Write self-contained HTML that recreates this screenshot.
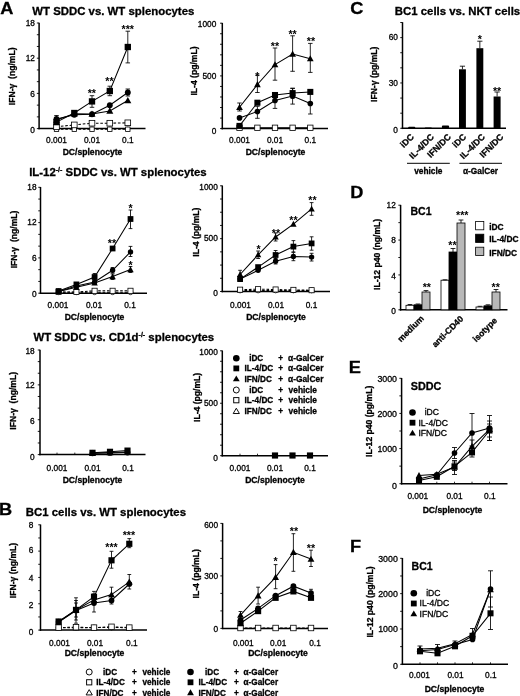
<!DOCTYPE html>
<html lang="en"><head><meta charset="utf-8"><title>Figure</title>
<style>html,body{margin:0;padding:0;background:#fff}svg{display:block;will-change:transform;filter:grayscale(1)}text{font-family:'Liberation Sans', Arial, Helvetica, sans-serif;fill:#000;stroke:#000;stroke-width:0.3px}</style></head><body>
<svg width="520" height="696" viewBox="0 0 520 696">
<rect x="0" y="0" width="520" height="696" fill="#fff"/>
<text transform="translate(0.3 14.2) scale(1.06 1)" x="0" y="0" font-size="17.2" font-weight="bold">A</text>
<text transform="translate(-0.9 515.2) scale(1.06 1)" x="0" y="0" font-size="17.2" font-weight="bold">B</text>
<text transform="translate(350.3 14) scale(1.06 1)" x="0" y="0" font-size="17.2" font-weight="bold">C</text>
<text transform="translate(350.3 197.7) scale(1.06 1)" x="0" y="0" font-size="17.2" font-weight="bold">D</text>
<text transform="translate(348.8 372.5) scale(1.06 1)" x="0" y="0" font-size="17.2" font-weight="bold">E</text>
<text transform="translate(349.9 552.2) scale(1.06 1)" x="0" y="0" font-size="17.2" font-weight="bold">F</text>
<text x="32.3" y="14.5" font-size="11.4" font-weight="bold" text-anchor="start">WT SDDC vs. WT splenocytes</text>
<text x="29.2" y="175.8" font-size="11.4" font-weight="bold">IL-12<tspan font-size="7" dy="-4.2">-/-</tspan><tspan dy="4.2"> SDDC vs. WT splenocytes</tspan></text>
<text x="33.5" y="341.2" font-size="11.4" font-weight="bold">WT SDDC vs. CD1d<tspan font-size="7" dy="-4.2">-/-</tspan><tspan dy="4.2"> splenocytes</tspan></text>
<text x="25.8" y="515.6" font-size="11.4" font-weight="bold" text-anchor="start">BC1 cells vs. WT splenocytes</text>
<text x="394.8" y="14.6" font-size="11.4" font-weight="bold" text-anchor="start">BC1 cells vs. NKT cells</text>
<line x1="39.1" y1="22.7" x2="39.1" y2="129.35" stroke="#000" stroke-width="1.5" stroke-linecap="butt"/>
<line x1="38.35" y1="128.6" x2="145.5" y2="128.6" stroke="#000" stroke-width="1.5" stroke-linecap="butt"/>
<line x1="36.85" y1="128.6" x2="39.1" y2="128.6" stroke="#000" stroke-width="0.9" stroke-linecap="butt"/>
<line x1="36.85" y1="116.87" x2="39.1" y2="116.87" stroke="#000" stroke-width="0.9" stroke-linecap="butt"/>
<line x1="36.85" y1="105.13" x2="39.1" y2="105.13" stroke="#000" stroke-width="0.9" stroke-linecap="butt"/>
<line x1="36.85" y1="93.4" x2="39.1" y2="93.4" stroke="#000" stroke-width="0.9" stroke-linecap="butt"/>
<line x1="36.85" y1="81.67" x2="39.1" y2="81.67" stroke="#000" stroke-width="0.9" stroke-linecap="butt"/>
<line x1="36.85" y1="69.93" x2="39.1" y2="69.93" stroke="#000" stroke-width="0.9" stroke-linecap="butt"/>
<line x1="36.85" y1="58.2" x2="39.1" y2="58.2" stroke="#000" stroke-width="0.9" stroke-linecap="butt"/>
<line x1="36.85" y1="46.47" x2="39.1" y2="46.47" stroke="#000" stroke-width="0.9" stroke-linecap="butt"/>
<line x1="36.85" y1="34.73" x2="39.1" y2="34.73" stroke="#000" stroke-width="0.9" stroke-linecap="butt"/>
<line x1="36.85" y1="23" x2="39.1" y2="23" stroke="#000" stroke-width="0.9" stroke-linecap="butt"/>
<text x="34.9" y="26.49" font-size="8.3" text-anchor="end">18</text>
<text x="34.9" y="61.19" font-size="8.3" text-anchor="end">12</text>
<text x="34.9" y="96.99" font-size="8.3" text-anchor="end">6</text>
<text x="34.9" y="132.99" font-size="8.3" text-anchor="end">0</text>
<text x="56.5" y="143.29" font-size="8.3" text-anchor="middle">0.001</text>
<text x="92" y="143.29" font-size="8.3" text-anchor="middle">0.01</text>
<text x="127.8" y="143.29" font-size="8.3" text-anchor="middle">0.1</text>
<text x="92.5" y="154.6" font-size="8.6" font-weight="bold" text-anchor="middle">DC/splenocyte</text>
<text x="15.2" y="76.3" font-size="8.6" font-weight="bold" text-anchor="middle" transform="rotate(-90 15.2 76.3)">IFN-γ  (ng/mL)</text>
<line x1="56.5" y1="126.6" x2="56.5" y2="128.6" stroke="#000" stroke-width="0.8" stroke-linecap="butt"/>
<line x1="74.3" y1="126.6" x2="74.3" y2="128.6" stroke="#000" stroke-width="0.8" stroke-linecap="butt"/>
<line x1="92" y1="126.6" x2="92" y2="128.6" stroke="#000" stroke-width="0.8" stroke-linecap="butt"/>
<line x1="109.8" y1="126.6" x2="109.8" y2="128.6" stroke="#000" stroke-width="0.8" stroke-linecap="butt"/>
<line x1="127.8" y1="126.6" x2="127.8" y2="128.6" stroke="#000" stroke-width="0.8" stroke-linecap="butt"/>
<polyline points="56.5,129.2 74.3,129.2 92,129.2 109.8,129.2 127.8,129.2" fill="none" stroke="#000" stroke-width="1.05" stroke-dasharray="2.6 1.8"/>
<polyline points="56.5,126.8 74.3,124.9 92,123.2 109.8,123.2 127.8,122.8" fill="none" stroke="#000" stroke-width="1.05" stroke-dasharray="2.6 1.8"/>
<polyline points="56.5,120 74.3,113.7 92,114 109.8,110.9 127.8,100.5" fill="none" stroke="#000" stroke-width="1.05"/>
<polyline points="56.5,119 74.3,114.7 92,114.3 109.8,105.2 127.8,92.5" fill="none" stroke="#000" stroke-width="1.05"/>
<polyline points="56.5,122.1 74.3,113 92,101.4 109.8,91 127.8,47" fill="none" stroke="#000" stroke-width="1.05"/>
<line x1="56.5" y1="115.5" x2="56.5" y2="122.5" stroke="#000" stroke-width="0.85" stroke-linecap="butt"/>
<line x1="54.25" y1="115.5" x2="58.75" y2="115.5" stroke="#000" stroke-width="0.85" stroke-linecap="butt"/>
<line x1="54.25" y1="122.5" x2="58.75" y2="122.5" stroke="#000" stroke-width="0.85" stroke-linecap="butt"/>
<line x1="127.8" y1="89" x2="127.8" y2="96" stroke="#000" stroke-width="0.85" stroke-linecap="butt"/>
<line x1="125.55" y1="89" x2="130.05" y2="89" stroke="#000" stroke-width="0.85" stroke-linecap="butt"/>
<line x1="125.55" y1="96" x2="130.05" y2="96" stroke="#000" stroke-width="0.85" stroke-linecap="butt"/>
<line x1="92" y1="95.7" x2="92" y2="107.3" stroke="#000" stroke-width="0.85" stroke-linecap="butt"/>
<line x1="89.75" y1="95.7" x2="94.25" y2="95.7" stroke="#000" stroke-width="0.85" stroke-linecap="butt"/>
<line x1="89.75" y1="107.3" x2="94.25" y2="107.3" stroke="#000" stroke-width="0.85" stroke-linecap="butt"/>
<line x1="109.8" y1="86.2" x2="109.8" y2="95.7" stroke="#000" stroke-width="0.85" stroke-linecap="butt"/>
<line x1="107.55" y1="86.2" x2="112.05" y2="86.2" stroke="#000" stroke-width="0.85" stroke-linecap="butt"/>
<line x1="107.55" y1="95.7" x2="112.05" y2="95.7" stroke="#000" stroke-width="0.85" stroke-linecap="butt"/>
<line x1="127.8" y1="31.2" x2="127.8" y2="62.9" stroke="#000" stroke-width="0.85" stroke-linecap="butt"/>
<line x1="125.55" y1="31.2" x2="130.05" y2="31.2" stroke="#000" stroke-width="0.85" stroke-linecap="butt"/>
<line x1="125.55" y1="62.9" x2="130.05" y2="62.9" stroke="#000" stroke-width="0.85" stroke-linecap="butt"/>
<rect x="54.3" y="127" width="4.41" height="4.41" fill="#fff" stroke="#000" stroke-width="0.8"/>
<rect x="72.1" y="127" width="4.41" height="4.41" fill="#fff" stroke="#000" stroke-width="0.8"/>
<rect x="89.8" y="127" width="4.41" height="4.41" fill="#fff" stroke="#000" stroke-width="0.8"/>
<rect x="107.6" y="127" width="4.41" height="4.41" fill="#fff" stroke="#000" stroke-width="0.8"/>
<rect x="125.6" y="127" width="4.41" height="4.41" fill="#fff" stroke="#000" stroke-width="0.8"/>
<rect x="53.67" y="123.97" width="5.65" height="5.65" fill="#fff" stroke="#000" stroke-width="0.8"/>
<rect x="71.47" y="122.08" width="5.65" height="5.65" fill="#fff" stroke="#000" stroke-width="0.8"/>
<rect x="89.17" y="120.38" width="5.65" height="5.65" fill="#fff" stroke="#000" stroke-width="0.8"/>
<rect x="106.97" y="120.38" width="5.65" height="5.65" fill="#fff" stroke="#000" stroke-width="0.8"/>
<rect x="124.97" y="119.97" width="5.65" height="5.65" fill="#fff" stroke="#000" stroke-width="0.8"/>
<polygon points="56.5,116.46 60,122.78 53,122.78" fill="#000" stroke-linejoin="round"/>
<polygon points="74.3,110.16 77.8,116.48 70.8,116.48" fill="#000" stroke-linejoin="round"/>
<polygon points="92,110.46 95.5,116.78 88.5,116.78" fill="#000" stroke-linejoin="round"/>
<polygon points="109.8,107.36 113.3,113.68 106.3,113.68" fill="#000" stroke-linejoin="round"/>
<polygon points="127.8,96.96 131.3,103.28 124.3,103.28" fill="#000" stroke-linejoin="round"/>
<circle cx="56.5" cy="119" r="2.94" fill="#000"/>
<circle cx="74.3" cy="114.7" r="2.94" fill="#000"/>
<circle cx="92" cy="114.3" r="2.94" fill="#000"/>
<circle cx="109.8" cy="105.2" r="2.94" fill="#000"/>
<circle cx="127.8" cy="92.5" r="2.94" fill="#000"/>
<rect x="53.34" y="118.94" width="6.33" height="6.33" fill="#000"/>
<rect x="71.14" y="109.84" width="6.33" height="6.33" fill="#000"/>
<rect x="88.84" y="98.24" width="6.33" height="6.33" fill="#000"/>
<rect x="106.64" y="87.84" width="6.33" height="6.33" fill="#000"/>
<rect x="124.64" y="43.84" width="6.33" height="6.33" fill="#000"/>
<text x="91.8" y="97.1" font-size="10.67" font-weight="bold" text-anchor="middle" style="stroke-width:0">**</text>
<text x="109.4" y="84.6" font-size="10.67" font-weight="bold" text-anchor="middle" style="stroke-width:0">**</text>
<text x="127.8" y="32.7" font-size="10.67" font-weight="bold" text-anchor="middle" style="stroke-width:0">***</text>
<line x1="222.3" y1="22.9" x2="222.3" y2="129.35" stroke="#000" stroke-width="1.5" stroke-linecap="butt"/>
<line x1="221.55" y1="128.6" x2="328" y2="128.6" stroke="#000" stroke-width="1.5" stroke-linecap="butt"/>
<line x1="220.05" y1="128.6" x2="222.3" y2="128.6" stroke="#000" stroke-width="0.9" stroke-linecap="butt"/>
<line x1="220.05" y1="118.06" x2="222.3" y2="118.06" stroke="#000" stroke-width="0.9" stroke-linecap="butt"/>
<line x1="220.05" y1="107.52" x2="222.3" y2="107.52" stroke="#000" stroke-width="0.9" stroke-linecap="butt"/>
<line x1="220.05" y1="96.98" x2="222.3" y2="96.98" stroke="#000" stroke-width="0.9" stroke-linecap="butt"/>
<line x1="220.05" y1="86.44" x2="222.3" y2="86.44" stroke="#000" stroke-width="0.9" stroke-linecap="butt"/>
<line x1="220.05" y1="75.9" x2="222.3" y2="75.9" stroke="#000" stroke-width="0.9" stroke-linecap="butt"/>
<line x1="220.05" y1="65.36" x2="222.3" y2="65.36" stroke="#000" stroke-width="0.9" stroke-linecap="butt"/>
<line x1="220.05" y1="54.82" x2="222.3" y2="54.82" stroke="#000" stroke-width="0.9" stroke-linecap="butt"/>
<line x1="220.05" y1="44.28" x2="222.3" y2="44.28" stroke="#000" stroke-width="0.9" stroke-linecap="butt"/>
<line x1="220.05" y1="33.74" x2="222.3" y2="33.74" stroke="#000" stroke-width="0.9" stroke-linecap="butt"/>
<line x1="220.05" y1="23.2" x2="222.3" y2="23.2" stroke="#000" stroke-width="0.9" stroke-linecap="butt"/>
<text x="216.3" y="26.99" font-size="8.3" text-anchor="end">1000</text>
<text x="216.3" y="79.09" font-size="8.3" text-anchor="end">500</text>
<text x="216.3" y="133.79" font-size="8.3" text-anchor="end">0</text>
<text x="239.5" y="143.29" font-size="8.3" text-anchor="middle">0.001</text>
<text x="275" y="143.29" font-size="8.3" text-anchor="middle">0.01</text>
<text x="310.3" y="143.29" font-size="8.3" text-anchor="middle">0.1</text>
<text x="275.5" y="154.6" font-size="8.6" font-weight="bold" text-anchor="middle">DC/splenocyte</text>
<text x="197.3" y="71" font-size="8.6" font-weight="bold" text-anchor="middle" transform="rotate(-90 197.3 71)">IL-4 (pg/mL)</text>
<line x1="239.5" y1="126.6" x2="239.5" y2="128.6" stroke="#000" stroke-width="0.8" stroke-linecap="butt"/>
<line x1="257.4" y1="126.6" x2="257.4" y2="128.6" stroke="#000" stroke-width="0.8" stroke-linecap="butt"/>
<line x1="275" y1="126.6" x2="275" y2="128.6" stroke="#000" stroke-width="0.8" stroke-linecap="butt"/>
<line x1="292.6" y1="126.6" x2="292.6" y2="128.6" stroke="#000" stroke-width="0.8" stroke-linecap="butt"/>
<line x1="310.3" y1="126.6" x2="310.3" y2="128.6" stroke="#000" stroke-width="0.8" stroke-linecap="butt"/>
<polyline points="239.5,127.8 257.4,127.8 275,127.8 292.6,127.8 310.3,127.8" fill="none" stroke="#000" stroke-width="1.05"/>
<polyline points="239.5,117.9 257.4,111.5 275,100.5 292.6,96.1 310.3,103.5" fill="none" stroke="#000" stroke-width="1.05"/>
<polyline points="239.5,125.9 257.4,102.7 275,95 292.6,93.1 310.3,91.9" fill="none" stroke="#000" stroke-width="1.05"/>
<polyline points="239.5,107.3 257.4,84.5 275,64.6 292.6,54 310.3,58.7" fill="none" stroke="#000" stroke-width="1.05"/>
<line x1="257.4" y1="106.3" x2="257.4" y2="118.3" stroke="#000" stroke-width="0.85" stroke-linecap="butt"/>
<line x1="255.15" y1="106.3" x2="259.65" y2="106.3" stroke="#000" stroke-width="0.85" stroke-linecap="butt"/>
<line x1="255.15" y1="118.3" x2="259.65" y2="118.3" stroke="#000" stroke-width="0.85" stroke-linecap="butt"/>
<line x1="275" y1="94.6" x2="275" y2="108.4" stroke="#000" stroke-width="0.85" stroke-linecap="butt"/>
<line x1="272.75" y1="94.6" x2="277.25" y2="94.6" stroke="#000" stroke-width="0.85" stroke-linecap="butt"/>
<line x1="272.75" y1="108.4" x2="277.25" y2="108.4" stroke="#000" stroke-width="0.85" stroke-linecap="butt"/>
<line x1="292.6" y1="88.3" x2="292.6" y2="104.1" stroke="#000" stroke-width="0.85" stroke-linecap="butt"/>
<line x1="290.35" y1="88.3" x2="294.85" y2="88.3" stroke="#000" stroke-width="0.85" stroke-linecap="butt"/>
<line x1="290.35" y1="104.1" x2="294.85" y2="104.1" stroke="#000" stroke-width="0.85" stroke-linecap="butt"/>
<line x1="310.3" y1="93" x2="310.3" y2="114" stroke="#000" stroke-width="0.85" stroke-linecap="butt"/>
<line x1="308.05" y1="93" x2="312.55" y2="93" stroke="#000" stroke-width="0.85" stroke-linecap="butt"/>
<line x1="308.05" y1="114" x2="312.55" y2="114" stroke="#000" stroke-width="0.85" stroke-linecap="butt"/>
<line x1="292.6" y1="88.3" x2="292.6" y2="98" stroke="#000" stroke-width="0.85" stroke-linecap="butt"/>
<line x1="290.35" y1="88.3" x2="294.85" y2="88.3" stroke="#000" stroke-width="0.85" stroke-linecap="butt"/>
<line x1="290.35" y1="98" x2="294.85" y2="98" stroke="#000" stroke-width="0.85" stroke-linecap="butt"/>
<line x1="239.5" y1="103" x2="239.5" y2="111" stroke="#000" stroke-width="0.85" stroke-linecap="butt"/>
<line x1="237.25" y1="103" x2="241.75" y2="103" stroke="#000" stroke-width="0.85" stroke-linecap="butt"/>
<line x1="237.25" y1="111" x2="241.75" y2="111" stroke="#000" stroke-width="0.85" stroke-linecap="butt"/>
<line x1="257.4" y1="75.2" x2="257.4" y2="92.5" stroke="#000" stroke-width="0.85" stroke-linecap="butt"/>
<line x1="255.15" y1="75.2" x2="259.65" y2="75.2" stroke="#000" stroke-width="0.85" stroke-linecap="butt"/>
<line x1="255.15" y1="92.5" x2="259.65" y2="92.5" stroke="#000" stroke-width="0.85" stroke-linecap="butt"/>
<line x1="275" y1="48" x2="275" y2="80.2" stroke="#000" stroke-width="0.85" stroke-linecap="butt"/>
<line x1="272.75" y1="48" x2="277.25" y2="48" stroke="#000" stroke-width="0.85" stroke-linecap="butt"/>
<line x1="272.75" y1="80.2" x2="277.25" y2="80.2" stroke="#000" stroke-width="0.85" stroke-linecap="butt"/>
<line x1="292.6" y1="35.8" x2="292.6" y2="71.3" stroke="#000" stroke-width="0.85" stroke-linecap="butt"/>
<line x1="290.35" y1="35.8" x2="294.85" y2="35.8" stroke="#000" stroke-width="0.85" stroke-linecap="butt"/>
<line x1="290.35" y1="71.3" x2="294.85" y2="71.3" stroke="#000" stroke-width="0.85" stroke-linecap="butt"/>
<line x1="310.3" y1="43.4" x2="310.3" y2="72.4" stroke="#000" stroke-width="0.85" stroke-linecap="butt"/>
<line x1="308.05" y1="43.4" x2="312.55" y2="43.4" stroke="#000" stroke-width="0.85" stroke-linecap="butt"/>
<line x1="308.05" y1="72.4" x2="312.55" y2="72.4" stroke="#000" stroke-width="0.85" stroke-linecap="butt"/>
<rect x="236.8" y="125.1" width="5.4" height="5.4" fill="#fff" stroke="#000" stroke-width="0.8"/>
<rect x="254.7" y="125.1" width="5.4" height="5.4" fill="#fff" stroke="#000" stroke-width="0.8"/>
<rect x="272.3" y="125.1" width="5.4" height="5.4" fill="#fff" stroke="#000" stroke-width="0.8"/>
<rect x="289.9" y="125.1" width="5.4" height="5.4" fill="#fff" stroke="#000" stroke-width="0.8"/>
<rect x="307.6" y="125.1" width="5.4" height="5.4" fill="#fff" stroke="#000" stroke-width="0.8"/>
<circle cx="239.5" cy="117.9" r="2.81" fill="#000"/>
<circle cx="257.4" cy="111.5" r="2.81" fill="#000"/>
<circle cx="275" cy="100.5" r="2.81" fill="#000"/>
<circle cx="292.6" cy="96.1" r="2.81" fill="#000"/>
<circle cx="310.3" cy="103.5" r="2.81" fill="#000"/>
<rect x="236.48" y="122.88" width="6.05" height="6.05" fill="#000"/>
<rect x="254.38" y="99.68" width="6.05" height="6.05" fill="#000"/>
<rect x="271.98" y="91.98" width="6.05" height="6.05" fill="#000"/>
<rect x="289.58" y="90.08" width="6.05" height="6.05" fill="#000"/>
<rect x="307.28" y="88.88" width="6.05" height="6.05" fill="#000"/>
<polygon points="239.5,103.91 242.85,109.96 236.15,109.96" fill="#000" stroke-linejoin="round"/>
<polygon points="257.4,81.11 260.75,87.16 254.05,87.16" fill="#000" stroke-linejoin="round"/>
<polygon points="275,61.21 278.35,67.26 271.65,67.26" fill="#000" stroke-linejoin="round"/>
<polygon points="292.6,50.61 295.95,56.66 289.25,56.66" fill="#000" stroke-linejoin="round"/>
<polygon points="310.3,55.31 313.65,61.36 306.95,61.36" fill="#000" stroke-linejoin="round"/>
<text x="257.4" y="79.6" font-size="10.67" font-weight="bold" text-anchor="middle" style="stroke-width:0">*</text>
<text x="275" y="49.6" font-size="10.67" font-weight="bold" text-anchor="middle" style="stroke-width:0">**</text>
<text x="292.6" y="37.6" font-size="10.67" font-weight="bold" text-anchor="middle" style="stroke-width:0">**</text>
<text x="311" y="45.4" font-size="10.67" font-weight="bold" text-anchor="middle" style="stroke-width:0">**</text>
<line x1="40.5" y1="187" x2="40.5" y2="293.95" stroke="#000" stroke-width="1.5" stroke-linecap="butt"/>
<line x1="39.75" y1="293.2" x2="147" y2="293.2" stroke="#000" stroke-width="1.5" stroke-linecap="butt"/>
<line x1="38.25" y1="293.2" x2="40.5" y2="293.2" stroke="#000" stroke-width="0.9" stroke-linecap="butt"/>
<line x1="38.25" y1="281.43" x2="40.5" y2="281.43" stroke="#000" stroke-width="0.9" stroke-linecap="butt"/>
<line x1="38.25" y1="269.67" x2="40.5" y2="269.67" stroke="#000" stroke-width="0.9" stroke-linecap="butt"/>
<line x1="38.25" y1="257.9" x2="40.5" y2="257.9" stroke="#000" stroke-width="0.9" stroke-linecap="butt"/>
<line x1="38.25" y1="246.13" x2="40.5" y2="246.13" stroke="#000" stroke-width="0.9" stroke-linecap="butt"/>
<line x1="38.25" y1="234.37" x2="40.5" y2="234.37" stroke="#000" stroke-width="0.9" stroke-linecap="butt"/>
<line x1="38.25" y1="222.6" x2="40.5" y2="222.6" stroke="#000" stroke-width="0.9" stroke-linecap="butt"/>
<line x1="38.25" y1="210.83" x2="40.5" y2="210.83" stroke="#000" stroke-width="0.9" stroke-linecap="butt"/>
<line x1="38.25" y1="199.07" x2="40.5" y2="199.07" stroke="#000" stroke-width="0.9" stroke-linecap="butt"/>
<line x1="38.25" y1="187.3" x2="40.5" y2="187.3" stroke="#000" stroke-width="0.9" stroke-linecap="butt"/>
<text x="36.5" y="190.49" font-size="8.3" text-anchor="end">18</text>
<text x="36.5" y="225.29" font-size="8.3" text-anchor="end">12</text>
<text x="36.5" y="261.39" font-size="8.3" text-anchor="end">6</text>
<text x="36.5" y="297.39" font-size="8.3" text-anchor="end">0</text>
<text x="58" y="307.59" font-size="8.3" text-anchor="middle">0.001</text>
<text x="94" y="307.59" font-size="8.3" text-anchor="middle">0.01</text>
<text x="130" y="307.59" font-size="8.3" text-anchor="middle">0.1</text>
<text x="94.5" y="320.1" font-size="8.6" font-weight="bold" text-anchor="middle">DC/splenocyte</text>
<text x="16.9" y="239.5" font-size="8.6" font-weight="bold" text-anchor="middle" transform="rotate(-90 16.9 239.5)">IFN-γ  (ng/mL)</text>
<line x1="58.6" y1="291.2" x2="58.6" y2="293.2" stroke="#000" stroke-width="0.8" stroke-linecap="butt"/>
<line x1="76.4" y1="291.2" x2="76.4" y2="293.2" stroke="#000" stroke-width="0.8" stroke-linecap="butt"/>
<line x1="94.6" y1="291.2" x2="94.6" y2="293.2" stroke="#000" stroke-width="0.8" stroke-linecap="butt"/>
<line x1="112.6" y1="291.2" x2="112.6" y2="293.2" stroke="#000" stroke-width="0.8" stroke-linecap="butt"/>
<line x1="130.5" y1="291.2" x2="130.5" y2="293.2" stroke="#000" stroke-width="0.8" stroke-linecap="butt"/>
<polyline points="58.6,292.3 76.4,292.3 94.6,292.3 112.6,292.3 130.5,292.3" fill="none" stroke="#000" stroke-width="1.05" stroke-dasharray="2.6 1.8"/>
<polyline points="58.6,292 76.4,292 94.6,290.8 112.6,290.8 130.5,290.8" fill="none" stroke="#000" stroke-width="1.05" stroke-dasharray="2.6 1.8"/>
<polyline points="58.6,291.4 76.4,287.2 94.6,283 112.6,276.6 130.5,269.6" fill="none" stroke="#000" stroke-width="1.05"/>
<polyline points="58.6,291.4 76.4,286.1 94.6,281.9 112.6,270.3 130.5,251.9" fill="none" stroke="#000" stroke-width="1.05"/>
<polyline points="58.6,291 76.4,284.4 94.6,277 112.6,248.5 130.5,219" fill="none" stroke="#000" stroke-width="1.05"/>
<line x1="112.6" y1="274" x2="112.6" y2="279.5" stroke="#000" stroke-width="0.85" stroke-linecap="butt"/>
<line x1="110.7" y1="274" x2="114.5" y2="274" stroke="#000" stroke-width="0.85" stroke-linecap="butt"/>
<line x1="110.7" y1="279.5" x2="114.5" y2="279.5" stroke="#000" stroke-width="0.85" stroke-linecap="butt"/>
<line x1="130.5" y1="266.5" x2="130.5" y2="272.5" stroke="#000" stroke-width="0.85" stroke-linecap="butt"/>
<line x1="128.6" y1="266.5" x2="132.4" y2="266.5" stroke="#000" stroke-width="0.85" stroke-linecap="butt"/>
<line x1="128.6" y1="272.5" x2="132.4" y2="272.5" stroke="#000" stroke-width="0.85" stroke-linecap="butt"/>
<line x1="112.6" y1="267.5" x2="112.6" y2="273" stroke="#000" stroke-width="0.85" stroke-linecap="butt"/>
<line x1="110.7" y1="267.5" x2="114.5" y2="267.5" stroke="#000" stroke-width="0.85" stroke-linecap="butt"/>
<line x1="110.7" y1="273" x2="114.5" y2="273" stroke="#000" stroke-width="0.85" stroke-linecap="butt"/>
<line x1="130.5" y1="246.4" x2="130.5" y2="256.5" stroke="#000" stroke-width="0.85" stroke-linecap="butt"/>
<line x1="128.6" y1="246.4" x2="132.4" y2="246.4" stroke="#000" stroke-width="0.85" stroke-linecap="butt"/>
<line x1="128.6" y1="256.5" x2="132.4" y2="256.5" stroke="#000" stroke-width="0.85" stroke-linecap="butt"/>
<line x1="94.6" y1="273.5" x2="94.6" y2="280" stroke="#000" stroke-width="0.85" stroke-linecap="butt"/>
<line x1="92.7" y1="273.5" x2="96.5" y2="273.5" stroke="#000" stroke-width="0.85" stroke-linecap="butt"/>
<line x1="92.7" y1="280" x2="96.5" y2="280" stroke="#000" stroke-width="0.85" stroke-linecap="butt"/>
<line x1="130.5" y1="210" x2="130.5" y2="228.6" stroke="#000" stroke-width="0.85" stroke-linecap="butt"/>
<line x1="128.6" y1="210" x2="132.4" y2="210" stroke="#000" stroke-width="0.85" stroke-linecap="butt"/>
<line x1="128.6" y1="228.6" x2="132.4" y2="228.6" stroke="#000" stroke-width="0.85" stroke-linecap="butt"/>
<circle cx="58.6" cy="292.3" r="2.37" fill="#fff" stroke="#000" stroke-width="0.8"/>
<circle cx="76.4" cy="292.3" r="2.37" fill="#fff" stroke="#000" stroke-width="0.8"/>
<circle cx="94.6" cy="292.3" r="2.37" fill="#fff" stroke="#000" stroke-width="0.8"/>
<circle cx="112.6" cy="292.3" r="2.37" fill="#fff" stroke="#000" stroke-width="0.8"/>
<circle cx="130.5" cy="292.3" r="2.37" fill="#fff" stroke="#000" stroke-width="0.8"/>
<rect x="56.02" y="289.43" width="5.15" height="5.15" fill="#fff" stroke="#000" stroke-width="0.8"/>
<rect x="73.83" y="289.43" width="5.15" height="5.15" fill="#fff" stroke="#000" stroke-width="0.8"/>
<rect x="92.02" y="288.23" width="5.15" height="5.15" fill="#fff" stroke="#000" stroke-width="0.8"/>
<rect x="110.02" y="288.23" width="5.15" height="5.15" fill="#fff" stroke="#000" stroke-width="0.8"/>
<rect x="127.92" y="288.23" width="5.15" height="5.15" fill="#fff" stroke="#000" stroke-width="0.8"/>
<polygon points="58.6,288.17 61.79,293.94 55.41,293.94" fill="#000" stroke-linejoin="round"/>
<polygon points="76.4,283.97 79.59,289.74 73.21,289.74" fill="#000" stroke-linejoin="round"/>
<polygon points="94.6,279.77 97.79,285.54 91.41,285.54" fill="#000" stroke-linejoin="round"/>
<polygon points="112.6,273.37 115.79,279.14 109.41,279.14" fill="#000" stroke-linejoin="round"/>
<polygon points="130.5,266.37 133.69,272.14 127.31,272.14" fill="#000" stroke-linejoin="round"/>
<circle cx="58.6" cy="291.4" r="2.68" fill="#000"/>
<circle cx="76.4" cy="286.1" r="2.68" fill="#000"/>
<circle cx="94.6" cy="281.9" r="2.68" fill="#000"/>
<circle cx="112.6" cy="270.3" r="2.68" fill="#000"/>
<circle cx="130.5" cy="251.9" r="2.68" fill="#000"/>
<rect x="55.72" y="288.12" width="5.77" height="5.77" fill="#000"/>
<rect x="73.52" y="281.52" width="5.77" height="5.77" fill="#000"/>
<rect x="91.72" y="274.12" width="5.77" height="5.77" fill="#000"/>
<rect x="109.72" y="245.62" width="5.77" height="5.77" fill="#000"/>
<rect x="127.62" y="216.12" width="5.77" height="5.77" fill="#000"/>
<text x="130.5" y="212.1" font-size="10.67" font-weight="bold" text-anchor="middle" style="stroke-width:0">*</text>
<text x="112" y="247.1" font-size="10.67" font-weight="bold" text-anchor="middle" style="stroke-width:0">**</text>
<text x="130.5" y="268.8" font-size="10.67" font-weight="bold" text-anchor="middle" style="stroke-width:0">*</text>
<line x1="222.3" y1="185.5" x2="222.3" y2="292.25" stroke="#000" stroke-width="1.5" stroke-linecap="butt"/>
<line x1="221.55" y1="291.5" x2="330" y2="291.5" stroke="#000" stroke-width="1.5" stroke-linecap="butt"/>
<line x1="220.05" y1="291.5" x2="222.3" y2="291.5" stroke="#000" stroke-width="0.9" stroke-linecap="butt"/>
<line x1="220.05" y1="278.29" x2="222.3" y2="278.29" stroke="#000" stroke-width="0.9" stroke-linecap="butt"/>
<line x1="220.05" y1="265.07" x2="222.3" y2="265.07" stroke="#000" stroke-width="0.9" stroke-linecap="butt"/>
<line x1="220.05" y1="251.86" x2="222.3" y2="251.86" stroke="#000" stroke-width="0.9" stroke-linecap="butt"/>
<line x1="220.05" y1="238.65" x2="222.3" y2="238.65" stroke="#000" stroke-width="0.9" stroke-linecap="butt"/>
<line x1="220.05" y1="225.44" x2="222.3" y2="225.44" stroke="#000" stroke-width="0.9" stroke-linecap="butt"/>
<line x1="220.05" y1="212.23" x2="222.3" y2="212.23" stroke="#000" stroke-width="0.9" stroke-linecap="butt"/>
<line x1="220.05" y1="199.01" x2="222.3" y2="199.01" stroke="#000" stroke-width="0.9" stroke-linecap="butt"/>
<line x1="220.05" y1="185.8" x2="222.3" y2="185.8" stroke="#000" stroke-width="0.9" stroke-linecap="butt"/>
<text x="217.8" y="190.19" font-size="8.3" text-anchor="end">1000</text>
<text x="217.8" y="241.49" font-size="8.3" text-anchor="end">500</text>
<text x="217.8" y="296.19" font-size="8.3" text-anchor="end">0</text>
<text x="240.5" y="307.59" font-size="8.3" text-anchor="middle">0.001</text>
<text x="276" y="307.59" font-size="8.3" text-anchor="middle">0.01</text>
<text x="311.5" y="307.59" font-size="8.3" text-anchor="middle">0.1</text>
<text x="276" y="320.1" font-size="8.6" font-weight="bold" text-anchor="middle">DC/splenocyte</text>
<text x="199.4" y="232.1" font-size="8.6" font-weight="bold" text-anchor="middle" transform="rotate(-90 199.4 232.1)">IL-4 (pg/mL)</text>
<line x1="240.1" y1="289.5" x2="240.1" y2="291.5" stroke="#000" stroke-width="0.8" stroke-linecap="butt"/>
<line x1="258.1" y1="289.5" x2="258.1" y2="291.5" stroke="#000" stroke-width="0.8" stroke-linecap="butt"/>
<line x1="275.6" y1="289.5" x2="275.6" y2="291.5" stroke="#000" stroke-width="0.8" stroke-linecap="butt"/>
<line x1="293.4" y1="289.5" x2="293.4" y2="291.5" stroke="#000" stroke-width="0.8" stroke-linecap="butt"/>
<line x1="311.6" y1="289.5" x2="311.6" y2="291.5" stroke="#000" stroke-width="0.8" stroke-linecap="butt"/>
<polyline points="240.1,290.5 258.1,290.5 275.6,290.5 293.4,290.5 311.6,290.5" fill="none" stroke="#000" stroke-width="1.05" stroke-dasharray="2.6 1.8"/>
<polyline points="240.1,289.7 258.1,289.2 275.6,289.5 293.4,289.9 311.6,290.2" fill="none" stroke="#000" stroke-width="1.05" stroke-dasharray="2.6 1.8"/>
<polyline points="240.1,279.1 258.1,270.3 275.6,261.2 293.4,256.5 311.6,257.1" fill="none" stroke="#000" stroke-width="1.05"/>
<polyline points="240.1,279.1 258.1,267.1 275.6,255 293.4,246.6 311.6,243.4" fill="none" stroke="#000" stroke-width="1.05"/>
<polyline points="240.1,274.5 258.1,254.8 275.6,237 293.4,224.1 311.6,208.9" fill="none" stroke="#000" stroke-width="1.05"/>
<line x1="275.6" y1="258.5" x2="275.6" y2="264" stroke="#000" stroke-width="0.85" stroke-linecap="butt"/>
<line x1="273.7" y1="258.5" x2="277.5" y2="258.5" stroke="#000" stroke-width="0.85" stroke-linecap="butt"/>
<line x1="273.7" y1="264" x2="277.5" y2="264" stroke="#000" stroke-width="0.85" stroke-linecap="butt"/>
<line x1="293.4" y1="252.3" x2="293.4" y2="260.7" stroke="#000" stroke-width="0.85" stroke-linecap="butt"/>
<line x1="291.5" y1="252.3" x2="295.3" y2="252.3" stroke="#000" stroke-width="0.85" stroke-linecap="butt"/>
<line x1="291.5" y1="260.7" x2="295.3" y2="260.7" stroke="#000" stroke-width="0.85" stroke-linecap="butt"/>
<line x1="311.6" y1="253.3" x2="311.6" y2="261" stroke="#000" stroke-width="0.85" stroke-linecap="butt"/>
<line x1="309.7" y1="253.3" x2="313.5" y2="253.3" stroke="#000" stroke-width="0.85" stroke-linecap="butt"/>
<line x1="309.7" y1="261" x2="313.5" y2="261" stroke="#000" stroke-width="0.85" stroke-linecap="butt"/>
<line x1="275.6" y1="250.5" x2="275.6" y2="259" stroke="#000" stroke-width="0.85" stroke-linecap="butt"/>
<line x1="273.7" y1="250.5" x2="277.5" y2="250.5" stroke="#000" stroke-width="0.85" stroke-linecap="butt"/>
<line x1="273.7" y1="259" x2="277.5" y2="259" stroke="#000" stroke-width="0.85" stroke-linecap="butt"/>
<line x1="293.4" y1="240.6" x2="293.4" y2="252" stroke="#000" stroke-width="0.85" stroke-linecap="butt"/>
<line x1="291.5" y1="240.6" x2="295.3" y2="240.6" stroke="#000" stroke-width="0.85" stroke-linecap="butt"/>
<line x1="291.5" y1="252" x2="295.3" y2="252" stroke="#000" stroke-width="0.85" stroke-linecap="butt"/>
<line x1="311.6" y1="236.8" x2="311.6" y2="250.2" stroke="#000" stroke-width="0.85" stroke-linecap="butt"/>
<line x1="309.7" y1="236.8" x2="313.5" y2="236.8" stroke="#000" stroke-width="0.85" stroke-linecap="butt"/>
<line x1="309.7" y1="250.2" x2="313.5" y2="250.2" stroke="#000" stroke-width="0.85" stroke-linecap="butt"/>
<line x1="240.1" y1="270.3" x2="240.1" y2="278.5" stroke="#000" stroke-width="0.85" stroke-linecap="butt"/>
<line x1="238.2" y1="270.3" x2="242" y2="270.3" stroke="#000" stroke-width="0.85" stroke-linecap="butt"/>
<line x1="238.2" y1="278.5" x2="242" y2="278.5" stroke="#000" stroke-width="0.85" stroke-linecap="butt"/>
<line x1="258.1" y1="251" x2="258.1" y2="258.5" stroke="#000" stroke-width="0.85" stroke-linecap="butt"/>
<line x1="256.2" y1="251" x2="260" y2="251" stroke="#000" stroke-width="0.85" stroke-linecap="butt"/>
<line x1="256.2" y1="258.5" x2="260" y2="258.5" stroke="#000" stroke-width="0.85" stroke-linecap="butt"/>
<line x1="275.6" y1="233" x2="275.6" y2="241" stroke="#000" stroke-width="0.85" stroke-linecap="butt"/>
<line x1="273.7" y1="233" x2="277.5" y2="233" stroke="#000" stroke-width="0.85" stroke-linecap="butt"/>
<line x1="273.7" y1="241" x2="277.5" y2="241" stroke="#000" stroke-width="0.85" stroke-linecap="butt"/>
<line x1="311.6" y1="202.6" x2="311.6" y2="215.3" stroke="#000" stroke-width="0.85" stroke-linecap="butt"/>
<line x1="309.7" y1="202.6" x2="313.5" y2="202.6" stroke="#000" stroke-width="0.85" stroke-linecap="butt"/>
<line x1="309.7" y1="215.3" x2="313.5" y2="215.3" stroke="#000" stroke-width="0.85" stroke-linecap="butt"/>
<circle cx="240.1" cy="290.5" r="2.37" fill="#fff" stroke="#000" stroke-width="0.8"/>
<circle cx="258.1" cy="290.5" r="2.37" fill="#fff" stroke="#000" stroke-width="0.8"/>
<circle cx="275.6" cy="290.5" r="2.37" fill="#fff" stroke="#000" stroke-width="0.8"/>
<circle cx="293.4" cy="290.5" r="2.37" fill="#fff" stroke="#000" stroke-width="0.8"/>
<circle cx="311.6" cy="290.5" r="2.37" fill="#fff" stroke="#000" stroke-width="0.8"/>
<rect x="237.53" y="287.12" width="5.15" height="5.15" fill="#fff" stroke="#000" stroke-width="0.8"/>
<rect x="255.53" y="286.62" width="5.15" height="5.15" fill="#fff" stroke="#000" stroke-width="0.8"/>
<rect x="273.03" y="286.93" width="5.15" height="5.15" fill="#fff" stroke="#000" stroke-width="0.8"/>
<rect x="290.82" y="287.32" width="5.15" height="5.15" fill="#fff" stroke="#000" stroke-width="0.8"/>
<rect x="309.03" y="287.62" width="5.15" height="5.15" fill="#fff" stroke="#000" stroke-width="0.8"/>
<circle cx="240.1" cy="279.1" r="2.68" fill="#000"/>
<circle cx="258.1" cy="270.3" r="2.68" fill="#000"/>
<circle cx="275.6" cy="261.2" r="2.68" fill="#000"/>
<circle cx="293.4" cy="256.5" r="2.68" fill="#000"/>
<circle cx="311.6" cy="257.1" r="2.68" fill="#000"/>
<rect x="237.22" y="276.22" width="5.77" height="5.77" fill="#000"/>
<rect x="255.22" y="264.22" width="5.77" height="5.77" fill="#000"/>
<rect x="272.72" y="252.12" width="5.77" height="5.77" fill="#000"/>
<rect x="290.52" y="243.72" width="5.77" height="5.77" fill="#000"/>
<rect x="308.72" y="240.52" width="5.77" height="5.77" fill="#000"/>
<polygon points="240.1,271.27 243.29,277.04 236.91,277.04" fill="#000" stroke-linejoin="round"/>
<polygon points="258.1,251.57 261.29,257.34 254.91,257.34" fill="#000" stroke-linejoin="round"/>
<polygon points="275.6,233.77 278.79,239.54 272.41,239.54" fill="#000" stroke-linejoin="round"/>
<polygon points="293.4,220.87 296.59,226.64 290.21,226.64" fill="#000" stroke-linejoin="round"/>
<polygon points="311.6,205.67 314.79,211.44 308.41,211.44" fill="#000" stroke-linejoin="round"/>
<text x="258.7" y="253.4" font-size="10.67" font-weight="bold" text-anchor="middle" style="stroke-width:0">*</text>
<text x="276" y="236.5" font-size="10.67" font-weight="bold" text-anchor="middle" style="stroke-width:0">**</text>
<text x="293.4" y="223.6" font-size="10.67" font-weight="bold" text-anchor="middle" style="stroke-width:0">**</text>
<text x="312.4" y="203.5" font-size="10.67" font-weight="bold" text-anchor="middle" style="stroke-width:0">**</text>
<line x1="40" y1="349.7" x2="40" y2="455.35" stroke="#000" stroke-width="1.5" stroke-linecap="butt"/>
<line x1="39.25" y1="454.6" x2="145.5" y2="454.6" stroke="#000" stroke-width="1.5" stroke-linecap="butt"/>
<line x1="37.75" y1="454.6" x2="40" y2="454.6" stroke="#000" stroke-width="0.9" stroke-linecap="butt"/>
<line x1="37.75" y1="442.98" x2="40" y2="442.98" stroke="#000" stroke-width="0.9" stroke-linecap="butt"/>
<line x1="37.75" y1="431.36" x2="40" y2="431.36" stroke="#000" stroke-width="0.9" stroke-linecap="butt"/>
<line x1="37.75" y1="419.73" x2="40" y2="419.73" stroke="#000" stroke-width="0.9" stroke-linecap="butt"/>
<line x1="37.75" y1="408.11" x2="40" y2="408.11" stroke="#000" stroke-width="0.9" stroke-linecap="butt"/>
<line x1="37.75" y1="396.49" x2="40" y2="396.49" stroke="#000" stroke-width="0.9" stroke-linecap="butt"/>
<line x1="37.75" y1="384.87" x2="40" y2="384.87" stroke="#000" stroke-width="0.9" stroke-linecap="butt"/>
<line x1="37.75" y1="373.24" x2="40" y2="373.24" stroke="#000" stroke-width="0.9" stroke-linecap="butt"/>
<line x1="37.75" y1="361.62" x2="40" y2="361.62" stroke="#000" stroke-width="0.9" stroke-linecap="butt"/>
<line x1="37.75" y1="350" x2="40" y2="350" stroke="#000" stroke-width="0.9" stroke-linecap="butt"/>
<text x="34.7" y="353.59" font-size="8.3" text-anchor="end">18</text>
<text x="34.7" y="388.19" font-size="8.3" text-anchor="end">12</text>
<text x="34.7" y="423.99" font-size="8.3" text-anchor="end">6</text>
<text x="34.7" y="459.99" font-size="8.3" text-anchor="end">0</text>
<text x="57" y="470.99" font-size="8.3" text-anchor="middle">0.001</text>
<text x="92.5" y="470.99" font-size="8.3" text-anchor="middle">0.01</text>
<text x="128" y="470.99" font-size="8.3" text-anchor="middle">0.1</text>
<text x="92.5" y="482.6" font-size="8.6" font-weight="bold" text-anchor="middle">DC/splenocyte</text>
<text x="16" y="400.8" font-size="8.6" font-weight="bold" text-anchor="middle" transform="rotate(-90 16 400.8)">IFN-γ  (ng/mL)</text>
<line x1="57" y1="452.6" x2="57" y2="454.6" stroke="#000" stroke-width="0.8" stroke-linecap="butt"/>
<line x1="74.8" y1="452.6" x2="74.8" y2="454.6" stroke="#000" stroke-width="0.8" stroke-linecap="butt"/>
<line x1="92.5" y1="452.6" x2="92.5" y2="454.6" stroke="#000" stroke-width="0.8" stroke-linecap="butt"/>
<line x1="110" y1="452.6" x2="110" y2="454.6" stroke="#000" stroke-width="0.8" stroke-linecap="butt"/>
<line x1="127.5" y1="452.6" x2="127.5" y2="454.6" stroke="#000" stroke-width="0.8" stroke-linecap="butt"/>
<polyline points="92.5,453.3 110,453 127.5,452.6" fill="none" stroke="#000" stroke-width="1.05"/>
<polyline points="92.5,453.2 110,452.6 127.5,452" fill="none" stroke="#000" stroke-width="1.05"/>
<polyline points="92.5,452.8 110,451.8 127.5,450.6" fill="none" stroke="#000" stroke-width="1.05"/>
<circle cx="92.5" cy="453.3" r="2.86" fill="#000"/>
<circle cx="110" cy="453" r="2.86" fill="#000"/>
<circle cx="127.5" cy="452.6" r="2.86" fill="#000"/>
<polygon points="92.5,449.75 95.91,455.91 89.09,455.91" fill="#000" stroke-linejoin="round"/>
<polygon points="110,449.15 113.41,455.31 106.59,455.31" fill="#000" stroke-linejoin="round"/>
<polygon points="127.5,448.55 130.91,454.71 124.09,454.71" fill="#000" stroke-linejoin="round"/>
<rect x="89.42" y="449.72" width="6.16" height="6.16" fill="#000"/>
<rect x="106.92" y="448.72" width="6.16" height="6.16" fill="#000"/>
<rect x="124.42" y="447.52" width="6.16" height="6.16" fill="#000"/>
<line x1="222.3" y1="350.5" x2="222.3" y2="456.45" stroke="#000" stroke-width="1.5" stroke-linecap="butt"/>
<line x1="221.55" y1="455.7" x2="328" y2="455.7" stroke="#000" stroke-width="1.5" stroke-linecap="butt"/>
<line x1="220.05" y1="455.7" x2="222.3" y2="455.7" stroke="#000" stroke-width="0.9" stroke-linecap="butt"/>
<line x1="220.05" y1="445.21" x2="222.3" y2="445.21" stroke="#000" stroke-width="0.9" stroke-linecap="butt"/>
<line x1="220.05" y1="434.72" x2="222.3" y2="434.72" stroke="#000" stroke-width="0.9" stroke-linecap="butt"/>
<line x1="220.05" y1="424.23" x2="222.3" y2="424.23" stroke="#000" stroke-width="0.9" stroke-linecap="butt"/>
<line x1="220.05" y1="413.74" x2="222.3" y2="413.74" stroke="#000" stroke-width="0.9" stroke-linecap="butt"/>
<line x1="220.05" y1="403.25" x2="222.3" y2="403.25" stroke="#000" stroke-width="0.9" stroke-linecap="butt"/>
<line x1="220.05" y1="392.76" x2="222.3" y2="392.76" stroke="#000" stroke-width="0.9" stroke-linecap="butt"/>
<line x1="220.05" y1="382.27" x2="222.3" y2="382.27" stroke="#000" stroke-width="0.9" stroke-linecap="butt"/>
<line x1="220.05" y1="371.78" x2="222.3" y2="371.78" stroke="#000" stroke-width="0.9" stroke-linecap="butt"/>
<line x1="220.05" y1="361.29" x2="222.3" y2="361.29" stroke="#000" stroke-width="0.9" stroke-linecap="butt"/>
<line x1="220.05" y1="350.8" x2="222.3" y2="350.8" stroke="#000" stroke-width="0.9" stroke-linecap="butt"/>
<text x="217.8" y="354.79" font-size="8.3" text-anchor="end">1000</text>
<text x="217.8" y="406.49" font-size="8.3" text-anchor="end">500</text>
<text x="217.8" y="460.89" font-size="8.3" text-anchor="end">0</text>
<text x="240" y="470.99" font-size="8.3" text-anchor="middle">0.001</text>
<text x="275" y="470.99" font-size="8.3" text-anchor="middle">0.01</text>
<text x="310" y="470.99" font-size="8.3" text-anchor="middle">0.1</text>
<text x="275" y="482.6" font-size="8.6" font-weight="bold" text-anchor="middle">DC/splenocyte</text>
<text x="199.7" y="397.4" font-size="8.6" font-weight="bold" text-anchor="middle" transform="rotate(-90 199.7 397.4)">IL-4 (pg/mL)</text>
<line x1="240" y1="453.7" x2="240" y2="455.7" stroke="#000" stroke-width="0.8" stroke-linecap="butt"/>
<line x1="257.5" y1="453.7" x2="257.5" y2="455.7" stroke="#000" stroke-width="0.8" stroke-linecap="butt"/>
<line x1="275" y1="453.7" x2="275" y2="455.7" stroke="#000" stroke-width="0.8" stroke-linecap="butt"/>
<line x1="292.5" y1="453.7" x2="292.5" y2="455.7" stroke="#000" stroke-width="0.8" stroke-linecap="butt"/>
<line x1="310" y1="453.7" x2="310" y2="455.7" stroke="#000" stroke-width="0.8" stroke-linecap="butt"/>
<polyline points="275,455.5 292.5,455.5 310,455.5" fill="none" stroke="#000" stroke-width="1.05"/>
<rect x="271.92" y="452.42" width="6.16" height="6.16" fill="#000"/>
<rect x="289.42" y="452.42" width="6.16" height="6.16" fill="#000"/>
<rect x="306.92" y="452.42" width="6.16" height="6.16" fill="#000"/>
<circle cx="236.3" cy="358.2" r="3.3" fill="#000"/>
<text x="256.2" y="361.1" font-size="8.2" font-weight="bold" text-anchor="middle">iDC</text>
<text x="280.6" y="361.1" font-size="8.2" font-weight="bold" text-anchor="middle">+</text>
<text x="288" y="361.1" font-size="8.4" font-weight="bold" text-anchor="start">α-GalCer</text>
<rect x="233.4" y="365.5" width="5.8" height="5.8" fill="#000"/>
<text x="244.6" y="371.3" font-size="8.2" font-weight="bold" text-anchor="start">IL-4/DC</text>
<text x="280.6" y="371.3" font-size="8.2" font-weight="bold" text-anchor="middle">+</text>
<text x="288" y="371.3" font-size="8.4" font-weight="bold" text-anchor="start">α-GalCer</text>
<polygon points="236.3,375.55 239.7,381.35 232.9,381.35" fill="#000" stroke-linejoin="round"/>
<text x="244.6" y="381.7" font-size="8.2" font-weight="bold" text-anchor="start">IFN/DC</text>
<text x="280.6" y="381.7" font-size="8.2" font-weight="bold" text-anchor="middle">+</text>
<text x="288" y="381.7" font-size="8.4" font-weight="bold" text-anchor="start">α-GalCer</text>
<circle cx="236.3" cy="390" r="3" fill="#fff" stroke="#000" stroke-width="0.95"/>
<text x="256.2" y="392.9" font-size="8.2" font-weight="bold" text-anchor="middle">iDC</text>
<text x="280.6" y="392.9" font-size="8.2" font-weight="bold" text-anchor="middle">+</text>
<text x="288.6" y="392.9" font-size="8.4" font-weight="bold" text-anchor="start">vehicle</text>
<rect x="233.7" y="397.6" width="5.2" height="5.2" fill="#fff" stroke="#000" stroke-width="0.95"/>
<text x="244.6" y="403.1" font-size="8.2" font-weight="bold" text-anchor="start">IL-4/DC</text>
<text x="280.6" y="403.1" font-size="8.2" font-weight="bold" text-anchor="middle">+</text>
<text x="288.6" y="403.1" font-size="8.4" font-weight="bold" text-anchor="start">vehicle</text>
<polygon points="236.3,408.23 239.4,413.53 233.2,413.53" fill="#fff" stroke="#000" stroke-width="0.95" stroke-linejoin="round"/>
<text x="244.6" y="414.1" font-size="8.2" font-weight="bold" text-anchor="start">IFN/DC</text>
<text x="280.6" y="414.1" font-size="8.2" font-weight="bold" text-anchor="middle">+</text>
<text x="288.6" y="414.1" font-size="8.4" font-weight="bold" text-anchor="start">vehicle</text>
<line x1="40.5" y1="524.5" x2="40.5" y2="630.85" stroke="#000" stroke-width="1.5" stroke-linecap="butt"/>
<line x1="39.75" y1="630.1" x2="147" y2="630.1" stroke="#000" stroke-width="1.5" stroke-linecap="butt"/>
<line x1="38.25" y1="630.1" x2="40.5" y2="630.1" stroke="#000" stroke-width="0.9" stroke-linecap="butt"/>
<line x1="38.25" y1="616.94" x2="40.5" y2="616.94" stroke="#000" stroke-width="0.9" stroke-linecap="butt"/>
<line x1="38.25" y1="603.77" x2="40.5" y2="603.77" stroke="#000" stroke-width="0.9" stroke-linecap="butt"/>
<line x1="38.25" y1="590.61" x2="40.5" y2="590.61" stroke="#000" stroke-width="0.9" stroke-linecap="butt"/>
<line x1="38.25" y1="577.45" x2="40.5" y2="577.45" stroke="#000" stroke-width="0.9" stroke-linecap="butt"/>
<line x1="38.25" y1="564.29" x2="40.5" y2="564.29" stroke="#000" stroke-width="0.9" stroke-linecap="butt"/>
<line x1="38.25" y1="551.12" x2="40.5" y2="551.12" stroke="#000" stroke-width="0.9" stroke-linecap="butt"/>
<line x1="38.25" y1="537.96" x2="40.5" y2="537.96" stroke="#000" stroke-width="0.9" stroke-linecap="butt"/>
<line x1="38.25" y1="524.8" x2="40.5" y2="524.8" stroke="#000" stroke-width="0.9" stroke-linecap="butt"/>
<text x="33.3" y="528.49" font-size="8.3" text-anchor="end">8</text>
<text x="33.3" y="553.39" font-size="8.3" text-anchor="end">6</text>
<text x="33.3" y="580.99" font-size="8.3" text-anchor="end">4</text>
<text x="33.3" y="607.69" font-size="8.3" text-anchor="end">2</text>
<text x="33.3" y="634.99" font-size="8.3" text-anchor="end">0</text>
<text x="59.5" y="645.59" font-size="8.3" text-anchor="middle">0.001</text>
<text x="95" y="645.59" font-size="8.3" text-anchor="middle">0.01</text>
<text x="131.8" y="645.59" font-size="8.3" text-anchor="middle">0.1</text>
<text x="94.5" y="656.4" font-size="8.6" font-weight="bold" text-anchor="middle">DC/splenocyte</text>
<text x="15.8" y="570.5" font-size="8.6" font-weight="bold" text-anchor="middle" transform="rotate(-90 15.8 570.5)">IFN-γ (ng/mL)</text>
<line x1="58.6" y1="628.1" x2="58.6" y2="630.1" stroke="#000" stroke-width="0.8" stroke-linecap="butt"/>
<line x1="76" y1="628.1" x2="76" y2="630.1" stroke="#000" stroke-width="0.8" stroke-linecap="butt"/>
<line x1="94" y1="628.1" x2="94" y2="630.1" stroke="#000" stroke-width="0.8" stroke-linecap="butt"/>
<line x1="111.5" y1="628.1" x2="111.5" y2="630.1" stroke="#000" stroke-width="0.8" stroke-linecap="butt"/>
<line x1="129.3" y1="628.1" x2="129.3" y2="630.1" stroke="#000" stroke-width="0.8" stroke-linecap="butt"/>
<polyline points="58.6,627.8 76,627.6 94,627.6 111.5,627.4 129.3,627.8" fill="none" stroke="#000" stroke-width="1.05" stroke-dasharray="2.6 1.8"/>
<polyline points="58.6,627.6 76,627.2 94,627.6 111.5,626.8 129.3,627.6" fill="none" stroke="#000" stroke-width="1.05" stroke-dasharray="2.6 1.8"/>
<polyline points="58.6,622 76,610.5 94,603.1 111.5,600.5 129.3,584" fill="none" stroke="#000" stroke-width="1.05"/>
<polyline points="58.6,622 76,610 94,599.9 111.5,594.6 129.3,581.9" fill="none" stroke="#000" stroke-width="1.05"/>
<polyline points="58.6,621.5 76,609.9 94,596.7 111.5,560.3 129.3,543.8" fill="none" stroke="#000" stroke-width="1.05"/>
<line x1="76" y1="597.8" x2="76" y2="623.2" stroke="#000" stroke-width="0.85" stroke-linecap="butt"/>
<line x1="74.1" y1="597.8" x2="77.9" y2="597.8" stroke="#000" stroke-width="0.85" stroke-linecap="butt"/>
<line x1="74.1" y1="623.2" x2="77.9" y2="623.2" stroke="#000" stroke-width="0.85" stroke-linecap="butt"/>
<line x1="94" y1="594" x2="94" y2="612" stroke="#000" stroke-width="0.85" stroke-linecap="butt"/>
<line x1="92.1" y1="594" x2="95.9" y2="594" stroke="#000" stroke-width="0.85" stroke-linecap="butt"/>
<line x1="92.1" y1="612" x2="95.9" y2="612" stroke="#000" stroke-width="0.85" stroke-linecap="butt"/>
<line x1="111.5" y1="597" x2="111.5" y2="604" stroke="#000" stroke-width="0.85" stroke-linecap="butt"/>
<line x1="109.6" y1="597" x2="113.4" y2="597" stroke="#000" stroke-width="0.85" stroke-linecap="butt"/>
<line x1="109.6" y1="604" x2="113.4" y2="604" stroke="#000" stroke-width="0.85" stroke-linecap="butt"/>
<line x1="76" y1="600.5" x2="76" y2="620" stroke="#000" stroke-width="0.85" stroke-linecap="butt"/>
<line x1="74.1" y1="600.5" x2="77.9" y2="600.5" stroke="#000" stroke-width="0.85" stroke-linecap="butt"/>
<line x1="74.1" y1="620" x2="77.9" y2="620" stroke="#000" stroke-width="0.85" stroke-linecap="butt"/>
<line x1="111.5" y1="587.2" x2="111.5" y2="601" stroke="#000" stroke-width="0.85" stroke-linecap="butt"/>
<line x1="109.6" y1="587.2" x2="113.4" y2="587.2" stroke="#000" stroke-width="0.85" stroke-linecap="butt"/>
<line x1="109.6" y1="601" x2="113.4" y2="601" stroke="#000" stroke-width="0.85" stroke-linecap="butt"/>
<line x1="129.3" y1="574.5" x2="129.3" y2="589" stroke="#000" stroke-width="0.85" stroke-linecap="butt"/>
<line x1="127.4" y1="574.5" x2="131.2" y2="574.5" stroke="#000" stroke-width="0.85" stroke-linecap="butt"/>
<line x1="127.4" y1="589" x2="131.2" y2="589" stroke="#000" stroke-width="0.85" stroke-linecap="butt"/>
<line x1="76" y1="603" x2="76" y2="617" stroke="#000" stroke-width="0.85" stroke-linecap="butt"/>
<line x1="74.1" y1="603" x2="77.9" y2="603" stroke="#000" stroke-width="0.85" stroke-linecap="butt"/>
<line x1="74.1" y1="617" x2="77.9" y2="617" stroke="#000" stroke-width="0.85" stroke-linecap="butt"/>
<line x1="94" y1="591.4" x2="94" y2="602" stroke="#000" stroke-width="0.85" stroke-linecap="butt"/>
<line x1="92.1" y1="591.4" x2="95.9" y2="591.4" stroke="#000" stroke-width="0.85" stroke-linecap="butt"/>
<line x1="92.1" y1="602" x2="95.9" y2="602" stroke="#000" stroke-width="0.85" stroke-linecap="butt"/>
<line x1="111.5" y1="551.3" x2="111.5" y2="568.2" stroke="#000" stroke-width="0.85" stroke-linecap="butt"/>
<line x1="109.6" y1="551.3" x2="113.4" y2="551.3" stroke="#000" stroke-width="0.85" stroke-linecap="butt"/>
<line x1="109.6" y1="568.2" x2="113.4" y2="568.2" stroke="#000" stroke-width="0.85" stroke-linecap="butt"/>
<line x1="129.3" y1="538.6" x2="129.3" y2="547.7" stroke="#000" stroke-width="0.85" stroke-linecap="butt"/>
<line x1="127.4" y1="538.6" x2="131.2" y2="538.6" stroke="#000" stroke-width="0.85" stroke-linecap="butt"/>
<line x1="127.4" y1="547.7" x2="131.2" y2="547.7" stroke="#000" stroke-width="0.85" stroke-linecap="butt"/>
<circle cx="58.6" cy="627.8" r="2.53" fill="#fff" stroke="#000" stroke-width="0.8"/>
<circle cx="76" cy="627.6" r="2.53" fill="#fff" stroke="#000" stroke-width="0.8"/>
<circle cx="94" cy="627.6" r="2.53" fill="#fff" stroke="#000" stroke-width="0.8"/>
<circle cx="111.5" cy="627.4" r="2.53" fill="#fff" stroke="#000" stroke-width="0.8"/>
<circle cx="129.3" cy="627.8" r="2.53" fill="#fff" stroke="#000" stroke-width="0.8"/>
<rect x="55.85" y="624.85" width="5.5" height="5.5" fill="#fff" stroke="#000" stroke-width="0.8"/>
<rect x="73.25" y="624.45" width="5.5" height="5.5" fill="#fff" stroke="#000" stroke-width="0.8"/>
<rect x="91.25" y="624.85" width="5.5" height="5.5" fill="#fff" stroke="#000" stroke-width="0.8"/>
<rect x="108.75" y="624.05" width="5.5" height="5.5" fill="#fff" stroke="#000" stroke-width="0.8"/>
<rect x="126.55" y="624.85" width="5.5" height="5.5" fill="#fff" stroke="#000" stroke-width="0.8"/>
<circle cx="58.6" cy="622" r="2.86" fill="#000"/>
<circle cx="76" cy="610.5" r="2.86" fill="#000"/>
<circle cx="94" cy="603.1" r="2.86" fill="#000"/>
<circle cx="111.5" cy="600.5" r="2.86" fill="#000"/>
<circle cx="129.3" cy="584" r="2.86" fill="#000"/>
<polygon points="58.6,618.55 62.01,624.71 55.19,624.71" fill="#000" stroke-linejoin="round"/>
<polygon points="76,606.55 79.41,612.71 72.59,612.71" fill="#000" stroke-linejoin="round"/>
<polygon points="94,596.45 97.41,602.61 90.59,602.61" fill="#000" stroke-linejoin="round"/>
<polygon points="111.5,591.15 114.91,597.31 108.09,597.31" fill="#000" stroke-linejoin="round"/>
<polygon points="129.3,578.45 132.71,584.61 125.89,584.61" fill="#000" stroke-linejoin="round"/>
<rect x="55.52" y="618.42" width="6.16" height="6.16" fill="#000"/>
<rect x="72.92" y="606.82" width="6.16" height="6.16" fill="#000"/>
<rect x="90.92" y="593.62" width="6.16" height="6.16" fill="#000"/>
<rect x="108.42" y="557.22" width="6.16" height="6.16" fill="#000"/>
<rect x="126.22" y="540.72" width="6.16" height="6.16" fill="#000"/>
<text x="111.5" y="551.3" font-size="10.67" font-weight="bold" text-anchor="middle" style="stroke-width:0">***</text>
<text x="128.9" y="539.1" font-size="10.67" font-weight="bold" text-anchor="middle" style="stroke-width:0">***</text>
<line x1="222.6" y1="523.1" x2="222.6" y2="629.15" stroke="#000" stroke-width="1.5" stroke-linecap="butt"/>
<line x1="221.85" y1="628.4" x2="328" y2="628.4" stroke="#000" stroke-width="1.5" stroke-linecap="butt"/>
<line x1="220.35" y1="628.4" x2="222.6" y2="628.4" stroke="#000" stroke-width="0.9" stroke-linecap="butt"/>
<line x1="220.35" y1="610.9" x2="222.6" y2="610.9" stroke="#000" stroke-width="0.9" stroke-linecap="butt"/>
<line x1="220.35" y1="593.4" x2="222.6" y2="593.4" stroke="#000" stroke-width="0.9" stroke-linecap="butt"/>
<line x1="220.35" y1="575.9" x2="222.6" y2="575.9" stroke="#000" stroke-width="0.9" stroke-linecap="butt"/>
<line x1="220.35" y1="558.4" x2="222.6" y2="558.4" stroke="#000" stroke-width="0.9" stroke-linecap="butt"/>
<line x1="220.35" y1="540.9" x2="222.6" y2="540.9" stroke="#000" stroke-width="0.9" stroke-linecap="butt"/>
<line x1="220.35" y1="523.4" x2="222.6" y2="523.4" stroke="#000" stroke-width="0.9" stroke-linecap="butt"/>
<text x="218.1" y="528.09" font-size="8.3" text-anchor="end">600</text>
<text x="218.1" y="579.29" font-size="8.3" text-anchor="end">300</text>
<text x="218.1" y="631.89" font-size="8.3" text-anchor="end">0</text>
<text x="243.3" y="645.79" font-size="8.3" text-anchor="middle">0.001</text>
<text x="278.2" y="645.79" font-size="8.3" text-anchor="middle">0.01</text>
<text x="315" y="645.79" font-size="8.3" text-anchor="middle">0.1</text>
<text x="278" y="656.4" font-size="8.6" font-weight="bold" text-anchor="middle">DC/splenocyte</text>
<text x="199.2" y="573.8" font-size="8.6" font-weight="bold" text-anchor="middle" transform="rotate(-90 199.2 573.8)">IL-4 (pg/mL)</text>
<line x1="240.5" y1="626.4" x2="240.5" y2="628.4" stroke="#000" stroke-width="0.8" stroke-linecap="butt"/>
<line x1="258.1" y1="626.4" x2="258.1" y2="628.4" stroke="#000" stroke-width="0.8" stroke-linecap="butt"/>
<line x1="275.6" y1="626.4" x2="275.6" y2="628.4" stroke="#000" stroke-width="0.8" stroke-linecap="butt"/>
<line x1="293.4" y1="626.4" x2="293.4" y2="628.4" stroke="#000" stroke-width="0.8" stroke-linecap="butt"/>
<line x1="311" y1="626.4" x2="311" y2="628.4" stroke="#000" stroke-width="0.8" stroke-linecap="butt"/>
<polyline points="240.5,628 258.1,628 275.6,628 293.4,628 311,628" fill="none" stroke="#000" stroke-width="1.05" stroke-dasharray="2.6 1.8"/>
<polyline points="240.5,620 258.1,608.4 275.6,595.7 293.4,586.2 311,593.1" fill="none" stroke="#000" stroke-width="1.05"/>
<polyline points="240.5,623.2 258.1,611.1 275.6,597.8 293.4,591.4 311,597.8" fill="none" stroke="#000" stroke-width="1.05"/>
<polyline points="240.5,615.1 258.1,595.7 275.6,577.3 293.4,552.3 311,559.1" fill="none" stroke="#000" stroke-width="1.05"/>
<line x1="311" y1="589.3" x2="311" y2="597" stroke="#000" stroke-width="0.85" stroke-linecap="butt"/>
<line x1="309.1" y1="589.3" x2="312.9" y2="589.3" stroke="#000" stroke-width="0.85" stroke-linecap="butt"/>
<line x1="309.1" y1="597" x2="312.9" y2="597" stroke="#000" stroke-width="0.85" stroke-linecap="butt"/>
<line x1="240.5" y1="611.5" x2="240.5" y2="619" stroke="#000" stroke-width="0.85" stroke-linecap="butt"/>
<line x1="238.6" y1="611.5" x2="242.4" y2="611.5" stroke="#000" stroke-width="0.85" stroke-linecap="butt"/>
<line x1="238.6" y1="619" x2="242.4" y2="619" stroke="#000" stroke-width="0.85" stroke-linecap="butt"/>
<line x1="258.1" y1="587.2" x2="258.1" y2="604" stroke="#000" stroke-width="0.85" stroke-linecap="butt"/>
<line x1="256.2" y1="587.2" x2="260" y2="587.2" stroke="#000" stroke-width="0.85" stroke-linecap="butt"/>
<line x1="256.2" y1="604" x2="260" y2="604" stroke="#000" stroke-width="0.85" stroke-linecap="butt"/>
<line x1="275.6" y1="564.6" x2="275.6" y2="588.7" stroke="#000" stroke-width="0.85" stroke-linecap="butt"/>
<line x1="273.7" y1="564.6" x2="277.5" y2="564.6" stroke="#000" stroke-width="0.85" stroke-linecap="butt"/>
<line x1="273.7" y1="588.7" x2="277.5" y2="588.7" stroke="#000" stroke-width="0.85" stroke-linecap="butt"/>
<line x1="293.4" y1="533.7" x2="293.4" y2="571.3" stroke="#000" stroke-width="0.85" stroke-linecap="butt"/>
<line x1="291.5" y1="533.7" x2="295.3" y2="533.7" stroke="#000" stroke-width="0.85" stroke-linecap="butt"/>
<line x1="291.5" y1="571.3" x2="295.3" y2="571.3" stroke="#000" stroke-width="0.85" stroke-linecap="butt"/>
<line x1="311" y1="550.2" x2="311" y2="566.5" stroke="#000" stroke-width="0.85" stroke-linecap="butt"/>
<line x1="309.1" y1="550.2" x2="312.9" y2="550.2" stroke="#000" stroke-width="0.85" stroke-linecap="butt"/>
<line x1="309.1" y1="566.5" x2="312.9" y2="566.5" stroke="#000" stroke-width="0.85" stroke-linecap="butt"/>
<rect x="237.75" y="625.25" width="5.5" height="5.5" fill="#fff" stroke="#000" stroke-width="0.8"/>
<rect x="255.35" y="625.25" width="5.5" height="5.5" fill="#fff" stroke="#000" stroke-width="0.8"/>
<rect x="272.85" y="625.25" width="5.5" height="5.5" fill="#fff" stroke="#000" stroke-width="0.8"/>
<rect x="290.65" y="625.25" width="5.5" height="5.5" fill="#fff" stroke="#000" stroke-width="0.8"/>
<rect x="308.25" y="625.25" width="5.5" height="5.5" fill="#fff" stroke="#000" stroke-width="0.8"/>
<circle cx="240.5" cy="620" r="2.86" fill="#000"/>
<circle cx="258.1" cy="608.4" r="2.86" fill="#000"/>
<circle cx="275.6" cy="595.7" r="2.86" fill="#000"/>
<circle cx="293.4" cy="586.2" r="2.86" fill="#000"/>
<circle cx="311" cy="593.1" r="2.86" fill="#000"/>
<rect x="237.42" y="620.12" width="6.16" height="6.16" fill="#000"/>
<rect x="255.02" y="608.02" width="6.16" height="6.16" fill="#000"/>
<rect x="272.52" y="594.72" width="6.16" height="6.16" fill="#000"/>
<rect x="290.32" y="588.32" width="6.16" height="6.16" fill="#000"/>
<rect x="307.92" y="594.72" width="6.16" height="6.16" fill="#000"/>
<polygon points="240.5,611.65 243.91,617.81 237.09,617.81" fill="#000" stroke-linejoin="round"/>
<polygon points="258.1,592.25 261.51,598.41 254.69,598.41" fill="#000" stroke-linejoin="round"/>
<polygon points="275.6,573.85 279.01,580.01 272.19,580.01" fill="#000" stroke-linejoin="round"/>
<polygon points="293.4,548.85 296.81,555.01 289.99,555.01" fill="#000" stroke-linejoin="round"/>
<polygon points="311,555.65 314.41,561.81 307.59,561.81" fill="#000" stroke-linejoin="round"/>
<text x="275.6" y="564.6" font-size="10.67" font-weight="bold" text-anchor="middle" style="stroke-width:0">*</text>
<text x="294" y="535.3" font-size="10.67" font-weight="bold" text-anchor="middle" style="stroke-width:0">**</text>
<text x="311" y="551.8" font-size="10.67" font-weight="bold" text-anchor="middle" style="stroke-width:0">**</text>
<circle cx="89.2" cy="672" r="3" fill="#fff" stroke="#000" stroke-width="0.95"/>
<text x="110" y="674.9" font-size="8.2" font-weight="bold" text-anchor="middle">iDC</text>
<text x="134.5" y="674.9" font-size="8.2" font-weight="bold" text-anchor="middle">+</text>
<text x="142.5" y="674.9" font-size="8.2" font-weight="bold" text-anchor="start">vehicle</text>
<circle cx="190.5" cy="672" r="3.3" fill="#000"/>
<text x="212" y="674.9" font-size="8.2" font-weight="bold" text-anchor="middle">iDC</text>
<text x="236.5" y="674.9" font-size="8.2" font-weight="bold" text-anchor="middle">+</text>
<text x="243.5" y="674.9" font-size="8.2" font-weight="bold" text-anchor="start">α-GalCer</text>
<rect x="86.6" y="679.7" width="5.2" height="5.2" fill="#fff" stroke="#000" stroke-width="0.95"/>
<text x="96.2" y="685.2" font-size="8.2" font-weight="bold" text-anchor="start">IL-4/DC</text>
<text x="134.5" y="685.2" font-size="8.2" font-weight="bold" text-anchor="middle">+</text>
<text x="142.5" y="685.2" font-size="8.2" font-weight="bold" text-anchor="start">vehicle</text>
<rect x="187.6" y="679.4" width="5.8" height="5.8" fill="#000"/>
<text x="198.5" y="685.2" font-size="8.2" font-weight="bold" text-anchor="start">IL-4/DC</text>
<text x="236.5" y="685.2" font-size="8.2" font-weight="bold" text-anchor="middle">+</text>
<text x="243.5" y="685.2" font-size="8.2" font-weight="bold" text-anchor="start">α-GalCer</text>
<polygon points="89.2,689.63 92.3,694.93 86.1,694.93" fill="#fff" stroke="#000" stroke-width="0.95" stroke-linejoin="round"/>
<text x="96.2" y="695.5" font-size="8.2" font-weight="bold" text-anchor="start">IFN/DC</text>
<text x="134.5" y="695.5" font-size="8.2" font-weight="bold" text-anchor="middle">+</text>
<text x="142.5" y="695.5" font-size="8.2" font-weight="bold" text-anchor="start">vehicle</text>
<polygon points="190.5,689.35 193.9,695.15 187.1,695.15" fill="#000" stroke-linejoin="round"/>
<text x="198.5" y="695.5" font-size="8.2" font-weight="bold" text-anchor="start">IFN/DC</text>
<text x="236.5" y="695.5" font-size="8.2" font-weight="bold" text-anchor="middle">+</text>
<text x="243.5" y="695.5" font-size="8.2" font-weight="bold" text-anchor="start">α-GalCer</text>
<line x1="402.5" y1="22.2" x2="402.5" y2="129.05" stroke="#000" stroke-width="1.5" stroke-linecap="butt"/>
<line x1="401.75" y1="128.3" x2="506" y2="128.3" stroke="#000" stroke-width="1.5" stroke-linecap="butt"/>
<line x1="400.25" y1="128.3" x2="402.5" y2="128.3" stroke="#000" stroke-width="0.9" stroke-linecap="butt"/>
<line x1="400.25" y1="113.19" x2="402.5" y2="113.19" stroke="#000" stroke-width="0.9" stroke-linecap="butt"/>
<line x1="400.25" y1="98.07" x2="402.5" y2="98.07" stroke="#000" stroke-width="0.9" stroke-linecap="butt"/>
<line x1="400.25" y1="82.96" x2="402.5" y2="82.96" stroke="#000" stroke-width="0.9" stroke-linecap="butt"/>
<line x1="400.25" y1="67.84" x2="402.5" y2="67.84" stroke="#000" stroke-width="0.9" stroke-linecap="butt"/>
<line x1="400.25" y1="52.73" x2="402.5" y2="52.73" stroke="#000" stroke-width="0.9" stroke-linecap="butt"/>
<line x1="400.25" y1="37.61" x2="402.5" y2="37.61" stroke="#000" stroke-width="0.9" stroke-linecap="butt"/>
<line x1="400.25" y1="22.5" x2="402.5" y2="22.5" stroke="#000" stroke-width="0.9" stroke-linecap="butt"/>
<text x="397.9" y="40.29" font-size="8.3" text-anchor="end">60</text>
<text x="397.9" y="86.29" font-size="8.3" text-anchor="end">30</text>
<text x="397.9" y="132.99" font-size="8.3" text-anchor="end">0</text>
<text x="377" y="74.3" font-size="8.6" font-weight="bold" text-anchor="middle" transform="rotate(-90 377 74.3)">IFN-γ (pg/mL)</text>
<rect x="408.1" y="126.7" width="7.2" height="1.6" fill="#000" rx="1"/>
<rect x="424.7" y="127.4" width="7.2" height="0.9" fill="#000" rx="1"/>
<rect x="441.9" y="125.5" width="7.2" height="2.8" fill="#000" rx="1"/>
<rect x="459" y="69.3" width="6.9" height="59" fill="#000"/>
<line x1="462.45" y1="66.2" x2="462.45" y2="69.3" stroke="#000" stroke-width="0.85" stroke-linecap="butt"/>
<line x1="459.85" y1="66.2" x2="465.05" y2="66.2" stroke="#000" stroke-width="0.85" stroke-linecap="butt"/>
<rect x="476.4" y="48.2" width="6.9" height="80.1" fill="#000"/>
<line x1="479.85" y1="41.2" x2="479.85" y2="48.2" stroke="#000" stroke-width="0.85" stroke-linecap="butt"/>
<line x1="477.25" y1="41.2" x2="482.45" y2="41.2" stroke="#000" stroke-width="0.85" stroke-linecap="butt"/>
<rect x="493.6" y="96.5" width="7" height="31.8" fill="#000"/>
<line x1="497.1" y1="92" x2="497.1" y2="96.5" stroke="#000" stroke-width="0.85" stroke-linecap="butt"/>
<line x1="494.5" y1="92" x2="499.7" y2="92" stroke="#000" stroke-width="0.85" stroke-linecap="butt"/>
<text x="479.9" y="43.1" font-size="10.67" font-weight="bold" text-anchor="middle" style="stroke-width:0">*</text>
<text x="497.1" y="94.7" font-size="10.67" font-weight="bold" text-anchor="middle" style="stroke-width:0">**</text>
<text x="414.6" y="137.6" font-size="8.8" font-weight="bold" text-anchor="end" transform="rotate(-45 414.6 137.6)">iDC</text>
<text x="434.6" y="137.6" font-size="8.8" font-weight="bold" text-anchor="end" transform="rotate(-45 434.6 137.6)">IL-4/DC</text>
<text x="451.4" y="137.6" font-size="8.8" font-weight="bold" text-anchor="end" transform="rotate(-45 451.4 137.6)">IFN/DC</text>
<text x="466.8" y="137.6" font-size="8.8" font-weight="bold" text-anchor="end" transform="rotate(-45 466.8 137.6)">iDC</text>
<text x="485.4" y="137.6" font-size="8.8" font-weight="bold" text-anchor="end" transform="rotate(-45 485.4 137.6)">IL-4/DC</text>
<text x="504" y="137.6" font-size="8.8" font-weight="bold" text-anchor="end" transform="rotate(-45 504 137.6)">IFN/DC</text>
<line x1="407" y1="163.3" x2="449.8" y2="163.3" stroke="#000" stroke-width="1" stroke-linecap="butt"/>
<line x1="459.4" y1="163.3" x2="502" y2="163.3" stroke="#000" stroke-width="1" stroke-linecap="butt"/>
<text x="428.3" y="173.7" font-size="8.3" font-weight="bold" text-anchor="middle">vehicle</text>
<text x="480.5" y="173.7" font-size="8.3" font-weight="bold" text-anchor="middle">α-GalCer</text>
<line x1="400.6" y1="204.9" x2="400.6" y2="310.55" stroke="#000" stroke-width="1.5" stroke-linecap="butt"/>
<line x1="399.85" y1="309.8" x2="507.5" y2="309.8" stroke="#000" stroke-width="1.5" stroke-linecap="butt"/>
<line x1="398.35" y1="309.8" x2="400.6" y2="309.8" stroke="#000" stroke-width="0.9" stroke-linecap="butt"/>
<line x1="398.35" y1="292.37" x2="400.6" y2="292.37" stroke="#000" stroke-width="0.9" stroke-linecap="butt"/>
<line x1="398.35" y1="274.93" x2="400.6" y2="274.93" stroke="#000" stroke-width="0.9" stroke-linecap="butt"/>
<line x1="398.35" y1="257.5" x2="400.6" y2="257.5" stroke="#000" stroke-width="0.9" stroke-linecap="butt"/>
<line x1="398.35" y1="240.07" x2="400.6" y2="240.07" stroke="#000" stroke-width="0.9" stroke-linecap="butt"/>
<line x1="398.35" y1="222.63" x2="400.6" y2="222.63" stroke="#000" stroke-width="0.9" stroke-linecap="butt"/>
<line x1="398.35" y1="205.2" x2="400.6" y2="205.2" stroke="#000" stroke-width="0.9" stroke-linecap="butt"/>
<text x="395.8" y="208.49" font-size="8.3" text-anchor="end">12</text>
<text x="395.8" y="242.99" font-size="8.3" text-anchor="end">8</text>
<text x="395.8" y="278.79" font-size="8.3" text-anchor="end">4</text>
<text x="395.8" y="314.19" font-size="8.3" text-anchor="end">0</text>
<text x="379.6" y="254.4" font-size="8.6" font-weight="bold" text-anchor="middle" transform="rotate(-90 379.6 254.4)">IL-12 p40 (ng/mL)</text>
<text x="410.5" y="215.3" font-size="10.5" font-weight="bold" text-anchor="start">BC1</text>
<rect x="406" y="305.3" width="8" height="4.5" fill="#fff" stroke="#000" stroke-width="0.8"/>
<line x1="410" y1="304.5" x2="410" y2="305.3" stroke="#000" stroke-width="0.85" stroke-linecap="butt"/>
<line x1="407.6" y1="304.5" x2="412.4" y2="304.5" stroke="#000" stroke-width="0.85" stroke-linecap="butt"/>
<rect x="414" y="304.8" width="8" height="5" fill="#000" stroke="#000" stroke-width="0.8"/>
<line x1="418" y1="304" x2="418" y2="304.8" stroke="#000" stroke-width="0.85" stroke-linecap="butt"/>
<line x1="415.6" y1="304" x2="420.4" y2="304" stroke="#000" stroke-width="0.85" stroke-linecap="butt"/>
<rect x="422" y="292" width="8" height="17.8" fill="#b8b8b8" stroke="#000" stroke-width="0.8"/>
<line x1="426" y1="290.6" x2="426" y2="292" stroke="#000" stroke-width="0.85" stroke-linecap="butt"/>
<line x1="423.6" y1="290.6" x2="428.4" y2="290.6" stroke="#000" stroke-width="0.85" stroke-linecap="butt"/>
<rect x="441" y="280.2" width="8" height="29.6" fill="#fff" stroke="#000" stroke-width="0.8"/>
<line x1="445" y1="279.8" x2="445" y2="280.2" stroke="#000" stroke-width="0.85" stroke-linecap="butt"/>
<line x1="442.6" y1="279.8" x2="447.4" y2="279.8" stroke="#000" stroke-width="0.85" stroke-linecap="butt"/>
<rect x="449" y="252" width="8" height="57.8" fill="#000" stroke="#000" stroke-width="0.8"/>
<line x1="453" y1="248.5" x2="453" y2="252" stroke="#000" stroke-width="0.85" stroke-linecap="butt"/>
<line x1="450.6" y1="248.5" x2="455.4" y2="248.5" stroke="#000" stroke-width="0.85" stroke-linecap="butt"/>
<rect x="457" y="223" width="8" height="86.8" fill="#b8b8b8" stroke="#000" stroke-width="0.8"/>
<line x1="461" y1="220" x2="461" y2="223" stroke="#000" stroke-width="0.85" stroke-linecap="butt"/>
<line x1="458.6" y1="220" x2="463.4" y2="220" stroke="#000" stroke-width="0.85" stroke-linecap="butt"/>
<rect x="476" y="307" width="8" height="2.8" fill="#fff" stroke="#000" stroke-width="0.8"/>
<line x1="480" y1="306.3" x2="480" y2="307" stroke="#000" stroke-width="0.85" stroke-linecap="butt"/>
<line x1="477.6" y1="306.3" x2="482.4" y2="306.3" stroke="#000" stroke-width="0.85" stroke-linecap="butt"/>
<rect x="484" y="305.8" width="8" height="4" fill="#000" stroke="#000" stroke-width="0.8"/>
<line x1="488" y1="304.8" x2="488" y2="305.8" stroke="#000" stroke-width="0.85" stroke-linecap="butt"/>
<line x1="485.6" y1="304.8" x2="490.4" y2="304.8" stroke="#000" stroke-width="0.85" stroke-linecap="butt"/>
<rect x="492" y="292" width="8" height="17.8" fill="#b8b8b8" stroke="#000" stroke-width="0.8"/>
<line x1="496" y1="289.5" x2="496" y2="292" stroke="#000" stroke-width="0.85" stroke-linecap="butt"/>
<line x1="493.6" y1="289.5" x2="498.4" y2="289.5" stroke="#000" stroke-width="0.85" stroke-linecap="butt"/>
<text x="426.8" y="290.9" font-size="10.67" font-weight="bold" text-anchor="middle" style="stroke-width:0">**</text>
<text x="452.5" y="248.9" font-size="10.67" font-weight="bold" text-anchor="middle" style="stroke-width:0">**</text>
<text x="462.3" y="218.9" font-size="10.67" font-weight="bold" text-anchor="middle" style="stroke-width:0">***</text>
<text x="495.7" y="290.9" font-size="10.67" font-weight="bold" text-anchor="middle" style="stroke-width:0">**</text>
<rect x="475.6" y="221.5" width="8.2" height="8.3" fill="#fff" stroke="#000" stroke-width="0.8"/>
<text x="489.2" y="229.7" font-size="8.4" font-weight="bold" text-anchor="start">iDC</text>
<rect x="475.6" y="234.2" width="8.2" height="8.3" fill="#000" stroke="#000" stroke-width="0.8"/>
<text x="489.2" y="242.1" font-size="8.4" font-weight="bold" text-anchor="start">IL-4/DC</text>
<rect x="475.6" y="247.2" width="8.2" height="8.3" fill="#b8b8b8" stroke="#000" stroke-width="0.8"/>
<text x="489.2" y="255.7" font-size="8.4" font-weight="bold" text-anchor="start">IFN/DC</text>
<text x="424.3" y="319.2" font-size="8.6" font-weight="bold" text-anchor="end" transform="rotate(-45 424.3 319.2)">medium</text>
<text x="463.8" y="319.4" font-size="8.6" font-weight="bold" text-anchor="end" transform="rotate(-45 463.8 319.4)">anti-CD40</text>
<text x="497.6" y="321.2" font-size="8.6" font-weight="bold" text-anchor="end" transform="rotate(-45 497.6 321.2)">isotype</text>
<line x1="401.6" y1="378" x2="401.6" y2="484.45" stroke="#000" stroke-width="1.5" stroke-linecap="butt"/>
<line x1="400.85" y1="483.7" x2="507.5" y2="483.7" stroke="#000" stroke-width="1.5" stroke-linecap="butt"/>
<line x1="399.35" y1="483.7" x2="401.6" y2="483.7" stroke="#000" stroke-width="0.9" stroke-linecap="butt"/>
<line x1="399.35" y1="466.13" x2="401.6" y2="466.13" stroke="#000" stroke-width="0.9" stroke-linecap="butt"/>
<line x1="399.35" y1="448.57" x2="401.6" y2="448.57" stroke="#000" stroke-width="0.9" stroke-linecap="butt"/>
<line x1="399.35" y1="431" x2="401.6" y2="431" stroke="#000" stroke-width="0.9" stroke-linecap="butt"/>
<line x1="399.35" y1="413.43" x2="401.6" y2="413.43" stroke="#000" stroke-width="0.9" stroke-linecap="butt"/>
<line x1="399.35" y1="395.87" x2="401.6" y2="395.87" stroke="#000" stroke-width="0.9" stroke-linecap="butt"/>
<line x1="399.35" y1="378.3" x2="401.6" y2="378.3" stroke="#000" stroke-width="0.9" stroke-linecap="butt"/>
<text x="397" y="382.17" font-size="8.8" text-anchor="end">3000</text>
<text x="397" y="416.97" font-size="8.8" text-anchor="end">2000</text>
<text x="397" y="452.27" font-size="8.8" text-anchor="end">1000</text>
<text x="397" y="488.97" font-size="8.8" text-anchor="end">0</text>
<text x="417.8" y="498.59" font-size="8.3" text-anchor="middle">0.001</text>
<text x="454.5" y="498.59" font-size="8.3" text-anchor="middle">0.01</text>
<text x="489.8" y="498.59" font-size="8.3" text-anchor="middle">0.1</text>
<text x="452.5" y="512.9" font-size="8.6" font-weight="bold" text-anchor="middle">DC/splenocyte</text>
<text x="371.9" y="421.3" font-size="8.6" font-weight="bold" text-anchor="middle" transform="rotate(-90 371.9 421.3)">IL-12 p40 (pg/mL)</text>
<line x1="419" y1="481.7" x2="419" y2="483.7" stroke="#000" stroke-width="0.8" stroke-linecap="butt"/>
<line x1="436.8" y1="481.7" x2="436.8" y2="483.7" stroke="#000" stroke-width="0.8" stroke-linecap="butt"/>
<line x1="454.5" y1="481.7" x2="454.5" y2="483.7" stroke="#000" stroke-width="0.8" stroke-linecap="butt"/>
<line x1="472" y1="481.7" x2="472" y2="483.7" stroke="#000" stroke-width="0.8" stroke-linecap="butt"/>
<line x1="489.5" y1="481.7" x2="489.5" y2="483.7" stroke="#000" stroke-width="0.8" stroke-linecap="butt"/>
<polyline points="419,475.5 436.8,474.3 454.5,467 472,446.3 489.5,429.3" fill="none" stroke="#000" stroke-width="1.05"/>
<polyline points="419,480.5 436.8,476.8 454.5,466.3 472,452.4 489.5,430.5" fill="none" stroke="#000" stroke-width="1.05"/>
<polyline points="419,479 436.8,474.8 454.5,453 472,433 489.5,428" fill="none" stroke="#000" stroke-width="1.05"/>
<line x1="454.5" y1="462" x2="454.5" y2="474.5" stroke="#000" stroke-width="0.85" stroke-linecap="butt"/>
<line x1="452" y1="462" x2="457" y2="462" stroke="#000" stroke-width="0.85" stroke-linecap="butt"/>
<line x1="452" y1="474.5" x2="457" y2="474.5" stroke="#000" stroke-width="0.85" stroke-linecap="butt"/>
<line x1="472" y1="440" x2="472" y2="453" stroke="#000" stroke-width="0.85" stroke-linecap="butt"/>
<line x1="469.5" y1="440" x2="474.5" y2="440" stroke="#000" stroke-width="0.85" stroke-linecap="butt"/>
<line x1="469.5" y1="453" x2="474.5" y2="453" stroke="#000" stroke-width="0.85" stroke-linecap="butt"/>
<line x1="489.5" y1="421" x2="489.5" y2="437" stroke="#000" stroke-width="0.85" stroke-linecap="butt"/>
<line x1="487" y1="421" x2="492" y2="421" stroke="#000" stroke-width="0.85" stroke-linecap="butt"/>
<line x1="487" y1="437" x2="492" y2="437" stroke="#000" stroke-width="0.85" stroke-linecap="butt"/>
<line x1="454.5" y1="460.5" x2="454.5" y2="470.5" stroke="#000" stroke-width="0.85" stroke-linecap="butt"/>
<line x1="452" y1="460.5" x2="457" y2="460.5" stroke="#000" stroke-width="0.85" stroke-linecap="butt"/>
<line x1="452" y1="470.5" x2="457" y2="470.5" stroke="#000" stroke-width="0.85" stroke-linecap="butt"/>
<line x1="472" y1="446" x2="472" y2="457" stroke="#000" stroke-width="0.85" stroke-linecap="butt"/>
<line x1="469.5" y1="446" x2="474.5" y2="446" stroke="#000" stroke-width="0.85" stroke-linecap="butt"/>
<line x1="469.5" y1="457" x2="474.5" y2="457" stroke="#000" stroke-width="0.85" stroke-linecap="butt"/>
<line x1="489.5" y1="424" x2="489.5" y2="440.5" stroke="#000" stroke-width="0.85" stroke-linecap="butt"/>
<line x1="487" y1="424" x2="492" y2="424" stroke="#000" stroke-width="0.85" stroke-linecap="butt"/>
<line x1="487" y1="440.5" x2="492" y2="440.5" stroke="#000" stroke-width="0.85" stroke-linecap="butt"/>
<line x1="454.5" y1="447.5" x2="454.5" y2="458.5" stroke="#000" stroke-width="0.85" stroke-linecap="butt"/>
<line x1="452" y1="447.5" x2="457" y2="447.5" stroke="#000" stroke-width="0.85" stroke-linecap="butt"/>
<line x1="452" y1="458.5" x2="457" y2="458.5" stroke="#000" stroke-width="0.85" stroke-linecap="butt"/>
<line x1="472" y1="413.5" x2="472" y2="452" stroke="#000" stroke-width="0.85" stroke-linecap="butt"/>
<line x1="469.5" y1="413.5" x2="474.5" y2="413.5" stroke="#000" stroke-width="0.85" stroke-linecap="butt"/>
<line x1="469.5" y1="452" x2="474.5" y2="452" stroke="#000" stroke-width="0.85" stroke-linecap="butt"/>
<line x1="489.5" y1="415.5" x2="489.5" y2="440.5" stroke="#000" stroke-width="0.85" stroke-linecap="butt"/>
<line x1="487" y1="415.5" x2="492" y2="415.5" stroke="#000" stroke-width="0.85" stroke-linecap="butt"/>
<line x1="487" y1="440.5" x2="492" y2="440.5" stroke="#000" stroke-width="0.85" stroke-linecap="butt"/>
<polygon points="419,472.11 422.35,478.16 415.65,478.16" fill="#000" stroke-linejoin="round"/>
<polygon points="436.8,470.91 440.15,476.96 433.45,476.96" fill="#000" stroke-linejoin="round"/>
<polygon points="454.5,463.61 457.85,469.66 451.15,469.66" fill="#000" stroke-linejoin="round"/>
<polygon points="472,442.91 475.35,448.96 468.65,448.96" fill="#000" stroke-linejoin="round"/>
<polygon points="489.5,425.91 492.85,431.96 486.15,431.96" fill="#000" stroke-linejoin="round"/>
<rect x="415.98" y="477.48" width="6.05" height="6.05" fill="#000"/>
<rect x="433.78" y="473.78" width="6.05" height="6.05" fill="#000"/>
<rect x="451.48" y="463.28" width="6.05" height="6.05" fill="#000"/>
<rect x="468.98" y="449.38" width="6.05" height="6.05" fill="#000"/>
<rect x="486.48" y="427.48" width="6.05" height="6.05" fill="#000"/>
<circle cx="419" cy="479" r="2.81" fill="#000"/>
<circle cx="436.8" cy="474.8" r="2.81" fill="#000"/>
<circle cx="454.5" cy="453" r="2.81" fill="#000"/>
<circle cx="472" cy="433" r="2.81" fill="#000"/>
<circle cx="489.5" cy="428" r="2.81" fill="#000"/>
<text x="410.8" y="390.3" font-size="10.8" font-weight="bold" text-anchor="start">SDDC</text>
<circle cx="412.5" cy="412.5" r="3.3" fill="#000"/>
<text x="431.8" y="415.4" font-size="8.6" text-anchor="middle">iDC</text>
<rect x="409.6" y="419.8" width="5.8" height="5.8" fill="#000"/>
<text x="418.4" y="425.6" font-size="8.6" text-anchor="start">IL-4/DC</text>
<polygon points="412.5,429.65 415.9,435.45 409.1,435.45" fill="#000" stroke-linejoin="round"/>
<text x="418.4" y="435.8" font-size="8.6" text-anchor="start">IFN/DC</text>
<line x1="402.4" y1="558" x2="402.4" y2="665.05" stroke="#000" stroke-width="1.5" stroke-linecap="butt"/>
<line x1="401.65" y1="664.3" x2="508" y2="664.3" stroke="#000" stroke-width="1.5" stroke-linecap="butt"/>
<line x1="400.15" y1="664.3" x2="402.4" y2="664.3" stroke="#000" stroke-width="0.9" stroke-linecap="butt"/>
<line x1="400.15" y1="646.63" x2="402.4" y2="646.63" stroke="#000" stroke-width="0.9" stroke-linecap="butt"/>
<line x1="400.15" y1="628.97" x2="402.4" y2="628.97" stroke="#000" stroke-width="0.9" stroke-linecap="butt"/>
<line x1="400.15" y1="611.3" x2="402.4" y2="611.3" stroke="#000" stroke-width="0.9" stroke-linecap="butt"/>
<line x1="400.15" y1="593.63" x2="402.4" y2="593.63" stroke="#000" stroke-width="0.9" stroke-linecap="butt"/>
<line x1="400.15" y1="575.97" x2="402.4" y2="575.97" stroke="#000" stroke-width="0.9" stroke-linecap="butt"/>
<line x1="400.15" y1="558.3" x2="402.4" y2="558.3" stroke="#000" stroke-width="0.9" stroke-linecap="butt"/>
<text x="397.8" y="562.17" font-size="8.8" text-anchor="end">3000</text>
<text x="397.8" y="596.97" font-size="8.8" text-anchor="end">2000</text>
<text x="397.8" y="632.27" font-size="8.8" text-anchor="end">1000</text>
<text x="397.8" y="669.47" font-size="8.8" text-anchor="end">0</text>
<text x="419.5" y="678.29" font-size="8.3" text-anchor="middle">0.001</text>
<text x="455.5" y="678.29" font-size="8.3" text-anchor="middle">0.01</text>
<text x="490.8" y="678.29" font-size="8.3" text-anchor="middle">0.1</text>
<text x="454.5" y="692.1" font-size="8.6" font-weight="bold" text-anchor="middle">DC/splenocyte</text>
<text x="372.6" y="602" font-size="8.6" font-weight="bold" text-anchor="middle" transform="rotate(-90 372.6 602)">IL-12 p40 (pg/mL)</text>
<line x1="420" y1="662.3" x2="420" y2="664.3" stroke="#000" stroke-width="0.8" stroke-linecap="butt"/>
<line x1="437.5" y1="662.3" x2="437.5" y2="664.3" stroke="#000" stroke-width="0.8" stroke-linecap="butt"/>
<line x1="455" y1="662.3" x2="455" y2="664.3" stroke="#000" stroke-width="0.8" stroke-linecap="butt"/>
<line x1="472.5" y1="662.3" x2="472.5" y2="664.3" stroke="#000" stroke-width="0.8" stroke-linecap="butt"/>
<line x1="490.5" y1="662.3" x2="490.5" y2="664.3" stroke="#000" stroke-width="0.8" stroke-linecap="butt"/>
<polyline points="420,649 437.5,648.3 455,643.8 472.5,634.5 490.5,589.5" fill="none" stroke="#000" stroke-width="1.05"/>
<polyline points="420,651.3 437.5,653.3 455,646.3 472.5,635.8 490.5,613.3" fill="none" stroke="#000" stroke-width="1.05"/>
<polyline points="420,650.8 437.5,649.5 455,644.5 472.5,639.5 490.5,589" fill="none" stroke="#000" stroke-width="1.05"/>
<line x1="420" y1="646" x2="420" y2="652" stroke="#000" stroke-width="0.85" stroke-linecap="butt"/>
<line x1="417.5" y1="646" x2="422.5" y2="646" stroke="#000" stroke-width="0.85" stroke-linecap="butt"/>
<line x1="417.5" y1="652" x2="422.5" y2="652" stroke="#000" stroke-width="0.85" stroke-linecap="butt"/>
<line x1="437.5" y1="644.5" x2="437.5" y2="652" stroke="#000" stroke-width="0.85" stroke-linecap="butt"/>
<line x1="435" y1="644.5" x2="440" y2="644.5" stroke="#000" stroke-width="0.85" stroke-linecap="butt"/>
<line x1="435" y1="652" x2="440" y2="652" stroke="#000" stroke-width="0.85" stroke-linecap="butt"/>
<line x1="455" y1="641" x2="455" y2="647" stroke="#000" stroke-width="0.85" stroke-linecap="butt"/>
<line x1="452.5" y1="641" x2="457.5" y2="641" stroke="#000" stroke-width="0.85" stroke-linecap="butt"/>
<line x1="452.5" y1="647" x2="457.5" y2="647" stroke="#000" stroke-width="0.85" stroke-linecap="butt"/>
<line x1="472.5" y1="628.5" x2="472.5" y2="640" stroke="#000" stroke-width="0.85" stroke-linecap="butt"/>
<line x1="470" y1="628.5" x2="475" y2="628.5" stroke="#000" stroke-width="0.85" stroke-linecap="butt"/>
<line x1="470" y1="640" x2="475" y2="640" stroke="#000" stroke-width="0.85" stroke-linecap="butt"/>
<line x1="490.5" y1="597" x2="490.5" y2="629.5" stroke="#000" stroke-width="0.85" stroke-linecap="butt"/>
<line x1="488" y1="597" x2="493" y2="597" stroke="#000" stroke-width="0.85" stroke-linecap="butt"/>
<line x1="488" y1="629.5" x2="493" y2="629.5" stroke="#000" stroke-width="0.85" stroke-linecap="butt"/>
<line x1="490.5" y1="570.8" x2="490.5" y2="607" stroke="#000" stroke-width="0.85" stroke-linecap="butt"/>
<line x1="488" y1="570.8" x2="493" y2="570.8" stroke="#000" stroke-width="0.85" stroke-linecap="butt"/>
<line x1="488" y1="607" x2="493" y2="607" stroke="#000" stroke-width="0.85" stroke-linecap="butt"/>
<polygon points="420,645.61 423.35,651.66 416.65,651.66" fill="#000" stroke-linejoin="round"/>
<polygon points="437.5,644.91 440.85,650.96 434.15,650.96" fill="#000" stroke-linejoin="round"/>
<polygon points="455,640.41 458.35,646.46 451.65,646.46" fill="#000" stroke-linejoin="round"/>
<polygon points="472.5,631.11 475.85,637.16 469.15,637.16" fill="#000" stroke-linejoin="round"/>
<polygon points="490.5,586.11 493.85,592.16 487.15,592.16" fill="#000" stroke-linejoin="round"/>
<rect x="416.98" y="648.28" width="6.05" height="6.05" fill="#000"/>
<rect x="434.48" y="650.28" width="6.05" height="6.05" fill="#000"/>
<rect x="451.98" y="643.28" width="6.05" height="6.05" fill="#000"/>
<rect x="469.48" y="632.78" width="6.05" height="6.05" fill="#000"/>
<rect x="487.48" y="610.28" width="6.05" height="6.05" fill="#000"/>
<circle cx="420" cy="650.8" r="2.81" fill="#000"/>
<circle cx="437.5" cy="649.5" r="2.81" fill="#000"/>
<circle cx="455" cy="644.5" r="2.81" fill="#000"/>
<circle cx="472.5" cy="639.5" r="2.81" fill="#000"/>
<circle cx="490.5" cy="589" r="2.81" fill="#000"/>
<text x="411.6" y="570.3" font-size="10.5" font-weight="bold" text-anchor="start">BC1</text>
<circle cx="413.8" cy="593.3" r="3.3" fill="#000"/>
<text x="433.3" y="596.2" font-size="8.6" text-anchor="middle">iDC</text>
<rect x="410.9" y="600.6" width="5.8" height="5.8" fill="#000"/>
<text x="419.6" y="606.4" font-size="8.6" text-anchor="start">IL-4/DC</text>
<polygon points="413.8,610.55 417.2,616.35 410.4,616.35" fill="#000" stroke-linejoin="round"/>
<text x="419.6" y="616.7" font-size="8.6" text-anchor="start">IFN/DC</text>
</svg></body></html>
